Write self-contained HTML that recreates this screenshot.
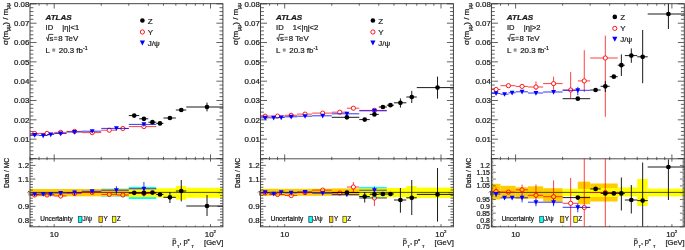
<!DOCTYPE html>
<html><head><meta charset="utf-8"><style>
html,body{margin:0;padding:0;background:#fff;width:685px;height:250px;overflow:hidden}
svg{display:block;will-change:transform}
text{font-family:"Liberation Sans", sans-serif;fill:#1a1a1a;stroke:#1a1a1a;stroke-width:0.22px}
</style></head><body>
<svg width="685" height="250" viewBox="0 0 685 250">
<rect width="685" height="250" fill="#fff"/>
<rect x="101.25" y="188.6" width="27.52" height="8" fill="#00ffff"/>
<rect x="128.77" y="187" width="27.52" height="12" fill="#00ffff"/>
<rect x="30" y="189" width="98.77" height="7.3" fill="#ffcc00"/>
<rect x="128.77" y="188.5" width="27.52" height="8.5" fill="#ffcc00"/>
<rect x="128.77" y="188.8" width="27.52" height="8.4" fill="#ffff00"/>
<rect x="156.3" y="188.2" width="19.53" height="9.3" fill="#ffff00"/>
<rect x="175.83" y="186" width="10.46" height="13.7" fill="#ffff00"/>
<rect x="186.29" y="187.8" width="36.59" height="10" fill="#ffff00"/>
<line x1="30" y1="192.4" x2="222.9" y2="192.4" stroke="#111" stroke-width="0.75"/>
<rect x="30" y="3.7" width="192.9" height="223.1" fill="none" stroke="#3a3a3a" stroke-width="0.95"/>
<line x1="30" y1="158.8" x2="222.9" y2="158.8" stroke="#3a3a3a" stroke-width="0.9"/>
<line x1="29.99" y1="3.7" x2="29.99" y2="5.7" stroke="#3a3a3a" stroke-width="0.8"/>
<line x1="29.99" y1="158.8" x2="29.99" y2="156.8" stroke="#3a3a3a" stroke-width="0.8"/>
<line x1="29.99" y1="158.8" x2="29.99" y2="160.1" stroke="#3a3a3a" stroke-width="0.8"/>
<line x1="29.99" y1="226.8" x2="29.99" y2="225.6" stroke="#3a3a3a" stroke-width="0.8"/>
<line x1="39.05" y1="3.7" x2="39.05" y2="5.7" stroke="#3a3a3a" stroke-width="0.8"/>
<line x1="39.05" y1="158.8" x2="39.05" y2="156.8" stroke="#3a3a3a" stroke-width="0.8"/>
<line x1="39.05" y1="158.8" x2="39.05" y2="160.1" stroke="#3a3a3a" stroke-width="0.8"/>
<line x1="39.05" y1="226.8" x2="39.05" y2="225.6" stroke="#3a3a3a" stroke-width="0.8"/>
<line x1="47.05" y1="3.7" x2="47.05" y2="5.7" stroke="#3a3a3a" stroke-width="0.8"/>
<line x1="47.05" y1="158.8" x2="47.05" y2="156.8" stroke="#3a3a3a" stroke-width="0.8"/>
<line x1="47.05" y1="158.8" x2="47.05" y2="160.1" stroke="#3a3a3a" stroke-width="0.8"/>
<line x1="47.05" y1="226.8" x2="47.05" y2="225.6" stroke="#3a3a3a" stroke-width="0.8"/>
<line x1="54.2" y1="3.7" x2="54.2" y2="8.5" stroke="#3a3a3a" stroke-width="0.8"/>
<line x1="54.2" y1="158.8" x2="54.2" y2="154.4" stroke="#3a3a3a" stroke-width="0.8"/>
<line x1="54.2" y1="158.8" x2="54.2" y2="161.6" stroke="#3a3a3a" stroke-width="0.8"/>
<line x1="54.2" y1="226.8" x2="54.2" y2="224.2" stroke="#3a3a3a" stroke-width="0.8"/>
<line x1="101.25" y1="3.7" x2="101.25" y2="5.7" stroke="#3a3a3a" stroke-width="0.8"/>
<line x1="101.25" y1="158.8" x2="101.25" y2="156.8" stroke="#3a3a3a" stroke-width="0.8"/>
<line x1="101.25" y1="158.8" x2="101.25" y2="160.1" stroke="#3a3a3a" stroke-width="0.8"/>
<line x1="101.25" y1="226.8" x2="101.25" y2="225.6" stroke="#3a3a3a" stroke-width="0.8"/>
<line x1="128.77" y1="3.7" x2="128.77" y2="5.7" stroke="#3a3a3a" stroke-width="0.8"/>
<line x1="128.77" y1="158.8" x2="128.77" y2="156.8" stroke="#3a3a3a" stroke-width="0.8"/>
<line x1="128.77" y1="158.8" x2="128.77" y2="160.1" stroke="#3a3a3a" stroke-width="0.8"/>
<line x1="128.77" y1="226.8" x2="128.77" y2="225.6" stroke="#3a3a3a" stroke-width="0.8"/>
<line x1="148.3" y1="3.7" x2="148.3" y2="5.7" stroke="#3a3a3a" stroke-width="0.8"/>
<line x1="148.3" y1="158.8" x2="148.3" y2="156.8" stroke="#3a3a3a" stroke-width="0.8"/>
<line x1="148.3" y1="158.8" x2="148.3" y2="160.1" stroke="#3a3a3a" stroke-width="0.8"/>
<line x1="148.3" y1="226.8" x2="148.3" y2="225.6" stroke="#3a3a3a" stroke-width="0.8"/>
<line x1="163.45" y1="3.7" x2="163.45" y2="5.7" stroke="#3a3a3a" stroke-width="0.8"/>
<line x1="163.45" y1="158.8" x2="163.45" y2="156.8" stroke="#3a3a3a" stroke-width="0.8"/>
<line x1="163.45" y1="158.8" x2="163.45" y2="160.1" stroke="#3a3a3a" stroke-width="0.8"/>
<line x1="163.45" y1="226.8" x2="163.45" y2="225.6" stroke="#3a3a3a" stroke-width="0.8"/>
<line x1="175.83" y1="3.7" x2="175.83" y2="5.7" stroke="#3a3a3a" stroke-width="0.8"/>
<line x1="175.83" y1="158.8" x2="175.83" y2="156.8" stroke="#3a3a3a" stroke-width="0.8"/>
<line x1="175.83" y1="158.8" x2="175.83" y2="160.1" stroke="#3a3a3a" stroke-width="0.8"/>
<line x1="175.83" y1="226.8" x2="175.83" y2="225.6" stroke="#3a3a3a" stroke-width="0.8"/>
<line x1="186.29" y1="3.7" x2="186.29" y2="5.7" stroke="#3a3a3a" stroke-width="0.8"/>
<line x1="186.29" y1="158.8" x2="186.29" y2="156.8" stroke="#3a3a3a" stroke-width="0.8"/>
<line x1="186.29" y1="158.8" x2="186.29" y2="160.1" stroke="#3a3a3a" stroke-width="0.8"/>
<line x1="186.29" y1="226.8" x2="186.29" y2="225.6" stroke="#3a3a3a" stroke-width="0.8"/>
<line x1="195.35" y1="3.7" x2="195.35" y2="5.7" stroke="#3a3a3a" stroke-width="0.8"/>
<line x1="195.35" y1="158.8" x2="195.35" y2="156.8" stroke="#3a3a3a" stroke-width="0.8"/>
<line x1="195.35" y1="158.8" x2="195.35" y2="160.1" stroke="#3a3a3a" stroke-width="0.8"/>
<line x1="195.35" y1="226.8" x2="195.35" y2="225.6" stroke="#3a3a3a" stroke-width="0.8"/>
<line x1="203.35" y1="3.7" x2="203.35" y2="5.7" stroke="#3a3a3a" stroke-width="0.8"/>
<line x1="203.35" y1="158.8" x2="203.35" y2="156.8" stroke="#3a3a3a" stroke-width="0.8"/>
<line x1="203.35" y1="158.8" x2="203.35" y2="160.1" stroke="#3a3a3a" stroke-width="0.8"/>
<line x1="203.35" y1="226.8" x2="203.35" y2="225.6" stroke="#3a3a3a" stroke-width="0.8"/>
<line x1="210.5" y1="3.7" x2="210.5" y2="8.5" stroke="#3a3a3a" stroke-width="0.8"/>
<line x1="210.5" y1="158.8" x2="210.5" y2="154.4" stroke="#3a3a3a" stroke-width="0.8"/>
<line x1="210.5" y1="158.8" x2="210.5" y2="161.6" stroke="#3a3a3a" stroke-width="0.8"/>
<line x1="210.5" y1="226.8" x2="210.5" y2="224.2" stroke="#3a3a3a" stroke-width="0.8"/>
<line x1="30" y1="158.5" x2="36.5" y2="158.5" stroke="#3a3a3a" stroke-width="0.8"/>
<line x1="222.9" y1="158.5" x2="216.4" y2="158.5" stroke="#3a3a3a" stroke-width="0.8"/>
<line x1="30" y1="154.63" x2="33.4" y2="154.63" stroke="#3a3a3a" stroke-width="0.8"/>
<line x1="222.9" y1="154.63" x2="219.5" y2="154.63" stroke="#3a3a3a" stroke-width="0.8"/>
<line x1="30" y1="150.77" x2="33.4" y2="150.77" stroke="#3a3a3a" stroke-width="0.8"/>
<line x1="222.9" y1="150.77" x2="219.5" y2="150.77" stroke="#3a3a3a" stroke-width="0.8"/>
<line x1="30" y1="146.9" x2="33.4" y2="146.9" stroke="#3a3a3a" stroke-width="0.8"/>
<line x1="222.9" y1="146.9" x2="219.5" y2="146.9" stroke="#3a3a3a" stroke-width="0.8"/>
<line x1="30" y1="143.04" x2="33.4" y2="143.04" stroke="#3a3a3a" stroke-width="0.8"/>
<line x1="222.9" y1="143.04" x2="219.5" y2="143.04" stroke="#3a3a3a" stroke-width="0.8"/>
<line x1="30" y1="139.17" x2="36.5" y2="139.17" stroke="#3a3a3a" stroke-width="0.8"/>
<line x1="222.9" y1="139.17" x2="216.4" y2="139.17" stroke="#3a3a3a" stroke-width="0.8"/>
<line x1="30" y1="135.3" x2="33.4" y2="135.3" stroke="#3a3a3a" stroke-width="0.8"/>
<line x1="222.9" y1="135.3" x2="219.5" y2="135.3" stroke="#3a3a3a" stroke-width="0.8"/>
<line x1="30" y1="131.44" x2="33.4" y2="131.44" stroke="#3a3a3a" stroke-width="0.8"/>
<line x1="222.9" y1="131.44" x2="219.5" y2="131.44" stroke="#3a3a3a" stroke-width="0.8"/>
<line x1="30" y1="127.57" x2="33.4" y2="127.57" stroke="#3a3a3a" stroke-width="0.8"/>
<line x1="222.9" y1="127.57" x2="219.5" y2="127.57" stroke="#3a3a3a" stroke-width="0.8"/>
<line x1="30" y1="123.71" x2="33.4" y2="123.71" stroke="#3a3a3a" stroke-width="0.8"/>
<line x1="222.9" y1="123.71" x2="219.5" y2="123.71" stroke="#3a3a3a" stroke-width="0.8"/>
<line x1="30" y1="119.84" x2="36.5" y2="119.84" stroke="#3a3a3a" stroke-width="0.8"/>
<line x1="222.9" y1="119.84" x2="216.4" y2="119.84" stroke="#3a3a3a" stroke-width="0.8"/>
<line x1="30" y1="115.97" x2="33.4" y2="115.97" stroke="#3a3a3a" stroke-width="0.8"/>
<line x1="222.9" y1="115.97" x2="219.5" y2="115.97" stroke="#3a3a3a" stroke-width="0.8"/>
<line x1="30" y1="112.11" x2="33.4" y2="112.11" stroke="#3a3a3a" stroke-width="0.8"/>
<line x1="222.9" y1="112.11" x2="219.5" y2="112.11" stroke="#3a3a3a" stroke-width="0.8"/>
<line x1="30" y1="108.24" x2="33.4" y2="108.24" stroke="#3a3a3a" stroke-width="0.8"/>
<line x1="222.9" y1="108.24" x2="219.5" y2="108.24" stroke="#3a3a3a" stroke-width="0.8"/>
<line x1="30" y1="104.38" x2="33.4" y2="104.38" stroke="#3a3a3a" stroke-width="0.8"/>
<line x1="222.9" y1="104.38" x2="219.5" y2="104.38" stroke="#3a3a3a" stroke-width="0.8"/>
<line x1="30" y1="100.51" x2="36.5" y2="100.51" stroke="#3a3a3a" stroke-width="0.8"/>
<line x1="222.9" y1="100.51" x2="216.4" y2="100.51" stroke="#3a3a3a" stroke-width="0.8"/>
<line x1="30" y1="96.64" x2="33.4" y2="96.64" stroke="#3a3a3a" stroke-width="0.8"/>
<line x1="222.9" y1="96.64" x2="219.5" y2="96.64" stroke="#3a3a3a" stroke-width="0.8"/>
<line x1="30" y1="92.78" x2="33.4" y2="92.78" stroke="#3a3a3a" stroke-width="0.8"/>
<line x1="222.9" y1="92.78" x2="219.5" y2="92.78" stroke="#3a3a3a" stroke-width="0.8"/>
<line x1="30" y1="88.91" x2="33.4" y2="88.91" stroke="#3a3a3a" stroke-width="0.8"/>
<line x1="222.9" y1="88.91" x2="219.5" y2="88.91" stroke="#3a3a3a" stroke-width="0.8"/>
<line x1="30" y1="85.05" x2="33.4" y2="85.05" stroke="#3a3a3a" stroke-width="0.8"/>
<line x1="222.9" y1="85.05" x2="219.5" y2="85.05" stroke="#3a3a3a" stroke-width="0.8"/>
<line x1="30" y1="81.18" x2="36.5" y2="81.18" stroke="#3a3a3a" stroke-width="0.8"/>
<line x1="222.9" y1="81.18" x2="216.4" y2="81.18" stroke="#3a3a3a" stroke-width="0.8"/>
<line x1="30" y1="77.31" x2="33.4" y2="77.31" stroke="#3a3a3a" stroke-width="0.8"/>
<line x1="222.9" y1="77.31" x2="219.5" y2="77.31" stroke="#3a3a3a" stroke-width="0.8"/>
<line x1="30" y1="73.45" x2="33.4" y2="73.45" stroke="#3a3a3a" stroke-width="0.8"/>
<line x1="222.9" y1="73.45" x2="219.5" y2="73.45" stroke="#3a3a3a" stroke-width="0.8"/>
<line x1="30" y1="69.58" x2="33.4" y2="69.58" stroke="#3a3a3a" stroke-width="0.8"/>
<line x1="222.9" y1="69.58" x2="219.5" y2="69.58" stroke="#3a3a3a" stroke-width="0.8"/>
<line x1="30" y1="65.72" x2="33.4" y2="65.72" stroke="#3a3a3a" stroke-width="0.8"/>
<line x1="222.9" y1="65.72" x2="219.5" y2="65.72" stroke="#3a3a3a" stroke-width="0.8"/>
<line x1="30" y1="61.85" x2="36.5" y2="61.85" stroke="#3a3a3a" stroke-width="0.8"/>
<line x1="222.9" y1="61.85" x2="216.4" y2="61.85" stroke="#3a3a3a" stroke-width="0.8"/>
<line x1="30" y1="57.98" x2="33.4" y2="57.98" stroke="#3a3a3a" stroke-width="0.8"/>
<line x1="222.9" y1="57.98" x2="219.5" y2="57.98" stroke="#3a3a3a" stroke-width="0.8"/>
<line x1="30" y1="54.12" x2="33.4" y2="54.12" stroke="#3a3a3a" stroke-width="0.8"/>
<line x1="222.9" y1="54.12" x2="219.5" y2="54.12" stroke="#3a3a3a" stroke-width="0.8"/>
<line x1="30" y1="50.25" x2="33.4" y2="50.25" stroke="#3a3a3a" stroke-width="0.8"/>
<line x1="222.9" y1="50.25" x2="219.5" y2="50.25" stroke="#3a3a3a" stroke-width="0.8"/>
<line x1="30" y1="46.39" x2="33.4" y2="46.39" stroke="#3a3a3a" stroke-width="0.8"/>
<line x1="222.9" y1="46.39" x2="219.5" y2="46.39" stroke="#3a3a3a" stroke-width="0.8"/>
<line x1="30" y1="42.52" x2="36.5" y2="42.52" stroke="#3a3a3a" stroke-width="0.8"/>
<line x1="222.9" y1="42.52" x2="216.4" y2="42.52" stroke="#3a3a3a" stroke-width="0.8"/>
<line x1="30" y1="38.65" x2="33.4" y2="38.65" stroke="#3a3a3a" stroke-width="0.8"/>
<line x1="222.9" y1="38.65" x2="219.5" y2="38.65" stroke="#3a3a3a" stroke-width="0.8"/>
<line x1="30" y1="34.79" x2="33.4" y2="34.79" stroke="#3a3a3a" stroke-width="0.8"/>
<line x1="222.9" y1="34.79" x2="219.5" y2="34.79" stroke="#3a3a3a" stroke-width="0.8"/>
<line x1="30" y1="30.92" x2="33.4" y2="30.92" stroke="#3a3a3a" stroke-width="0.8"/>
<line x1="222.9" y1="30.92" x2="219.5" y2="30.92" stroke="#3a3a3a" stroke-width="0.8"/>
<line x1="30" y1="27.06" x2="33.4" y2="27.06" stroke="#3a3a3a" stroke-width="0.8"/>
<line x1="222.9" y1="27.06" x2="219.5" y2="27.06" stroke="#3a3a3a" stroke-width="0.8"/>
<line x1="30" y1="23.19" x2="36.5" y2="23.19" stroke="#3a3a3a" stroke-width="0.8"/>
<line x1="222.9" y1="23.19" x2="216.4" y2="23.19" stroke="#3a3a3a" stroke-width="0.8"/>
<line x1="30" y1="19.32" x2="33.4" y2="19.32" stroke="#3a3a3a" stroke-width="0.8"/>
<line x1="222.9" y1="19.32" x2="219.5" y2="19.32" stroke="#3a3a3a" stroke-width="0.8"/>
<line x1="30" y1="15.46" x2="33.4" y2="15.46" stroke="#3a3a3a" stroke-width="0.8"/>
<line x1="222.9" y1="15.46" x2="219.5" y2="15.46" stroke="#3a3a3a" stroke-width="0.8"/>
<line x1="30" y1="11.59" x2="33.4" y2="11.59" stroke="#3a3a3a" stroke-width="0.8"/>
<line x1="222.9" y1="11.59" x2="219.5" y2="11.59" stroke="#3a3a3a" stroke-width="0.8"/>
<line x1="30" y1="7.73" x2="33.4" y2="7.73" stroke="#3a3a3a" stroke-width="0.8"/>
<line x1="222.9" y1="7.73" x2="219.5" y2="7.73" stroke="#3a3a3a" stroke-width="0.8"/>
<line x1="30" y1="3.86" x2="36.5" y2="3.86" stroke="#3a3a3a" stroke-width="0.8"/>
<line x1="222.9" y1="3.86" x2="216.4" y2="3.86" stroke="#3a3a3a" stroke-width="0.8"/>
<text x="29.4" y="142.07" font-size="7.9" text-anchor="end" >0.01</text>
<text x="29.4" y="122.74" font-size="7.9" text-anchor="end" >0.02</text>
<text x="29.4" y="103.41" font-size="7.9" text-anchor="end" >0.03</text>
<text x="29.4" y="84.08" font-size="7.9" text-anchor="end" >0.04</text>
<text x="29.4" y="64.75" font-size="7.9" text-anchor="end" >0.05</text>
<text x="29.4" y="45.42" font-size="7.9" text-anchor="end" >0.06</text>
<text x="29.4" y="26.09" font-size="7.9" text-anchor="end" >0.07</text>
<text x="29.4" y="6.76" font-size="7.9" text-anchor="end" >0.08</text>
<line x1="30" y1="225.46" x2="32.9" y2="225.46" stroke="#3a3a3a" stroke-width="0.8"/>
<line x1="222.9" y1="225.46" x2="220" y2="225.46" stroke="#3a3a3a" stroke-width="0.8"/>
<line x1="30" y1="222.73" x2="32.9" y2="222.73" stroke="#3a3a3a" stroke-width="0.8"/>
<line x1="222.9" y1="222.73" x2="220" y2="222.73" stroke="#3a3a3a" stroke-width="0.8"/>
<line x1="30" y1="220" x2="35.4" y2="220" stroke="#3a3a3a" stroke-width="0.8"/>
<line x1="222.9" y1="220" x2="217.5" y2="220" stroke="#3a3a3a" stroke-width="0.8"/>
<line x1="30" y1="217.27" x2="32.9" y2="217.27" stroke="#3a3a3a" stroke-width="0.8"/>
<line x1="222.9" y1="217.27" x2="220" y2="217.27" stroke="#3a3a3a" stroke-width="0.8"/>
<line x1="30" y1="214.54" x2="32.9" y2="214.54" stroke="#3a3a3a" stroke-width="0.8"/>
<line x1="222.9" y1="214.54" x2="220" y2="214.54" stroke="#3a3a3a" stroke-width="0.8"/>
<line x1="30" y1="211.81" x2="32.9" y2="211.81" stroke="#3a3a3a" stroke-width="0.8"/>
<line x1="222.9" y1="211.81" x2="220" y2="211.81" stroke="#3a3a3a" stroke-width="0.8"/>
<line x1="30" y1="209.08" x2="32.9" y2="209.08" stroke="#3a3a3a" stroke-width="0.8"/>
<line x1="222.9" y1="209.08" x2="220" y2="209.08" stroke="#3a3a3a" stroke-width="0.8"/>
<line x1="30" y1="206.35" x2="35.4" y2="206.35" stroke="#3a3a3a" stroke-width="0.8"/>
<line x1="222.9" y1="206.35" x2="217.5" y2="206.35" stroke="#3a3a3a" stroke-width="0.8"/>
<line x1="30" y1="203.62" x2="32.9" y2="203.62" stroke="#3a3a3a" stroke-width="0.8"/>
<line x1="222.9" y1="203.62" x2="220" y2="203.62" stroke="#3a3a3a" stroke-width="0.8"/>
<line x1="30" y1="200.89" x2="32.9" y2="200.89" stroke="#3a3a3a" stroke-width="0.8"/>
<line x1="222.9" y1="200.89" x2="220" y2="200.89" stroke="#3a3a3a" stroke-width="0.8"/>
<line x1="30" y1="198.16" x2="32.9" y2="198.16" stroke="#3a3a3a" stroke-width="0.8"/>
<line x1="222.9" y1="198.16" x2="220" y2="198.16" stroke="#3a3a3a" stroke-width="0.8"/>
<line x1="30" y1="195.43" x2="32.9" y2="195.43" stroke="#3a3a3a" stroke-width="0.8"/>
<line x1="222.9" y1="195.43" x2="220" y2="195.43" stroke="#3a3a3a" stroke-width="0.8"/>
<line x1="30" y1="192.7" x2="35.4" y2="192.7" stroke="#3a3a3a" stroke-width="0.8"/>
<line x1="222.9" y1="192.7" x2="217.5" y2="192.7" stroke="#3a3a3a" stroke-width="0.8"/>
<line x1="30" y1="189.97" x2="32.9" y2="189.97" stroke="#3a3a3a" stroke-width="0.8"/>
<line x1="222.9" y1="189.97" x2="220" y2="189.97" stroke="#3a3a3a" stroke-width="0.8"/>
<line x1="30" y1="187.24" x2="32.9" y2="187.24" stroke="#3a3a3a" stroke-width="0.8"/>
<line x1="222.9" y1="187.24" x2="220" y2="187.24" stroke="#3a3a3a" stroke-width="0.8"/>
<line x1="30" y1="184.51" x2="32.9" y2="184.51" stroke="#3a3a3a" stroke-width="0.8"/>
<line x1="222.9" y1="184.51" x2="220" y2="184.51" stroke="#3a3a3a" stroke-width="0.8"/>
<line x1="30" y1="181.78" x2="32.9" y2="181.78" stroke="#3a3a3a" stroke-width="0.8"/>
<line x1="222.9" y1="181.78" x2="220" y2="181.78" stroke="#3a3a3a" stroke-width="0.8"/>
<line x1="30" y1="179.05" x2="35.4" y2="179.05" stroke="#3a3a3a" stroke-width="0.8"/>
<line x1="222.9" y1="179.05" x2="217.5" y2="179.05" stroke="#3a3a3a" stroke-width="0.8"/>
<line x1="30" y1="176.32" x2="32.9" y2="176.32" stroke="#3a3a3a" stroke-width="0.8"/>
<line x1="222.9" y1="176.32" x2="220" y2="176.32" stroke="#3a3a3a" stroke-width="0.8"/>
<line x1="30" y1="173.59" x2="32.9" y2="173.59" stroke="#3a3a3a" stroke-width="0.8"/>
<line x1="222.9" y1="173.59" x2="220" y2="173.59" stroke="#3a3a3a" stroke-width="0.8"/>
<line x1="30" y1="170.86" x2="32.9" y2="170.86" stroke="#3a3a3a" stroke-width="0.8"/>
<line x1="222.9" y1="170.86" x2="220" y2="170.86" stroke="#3a3a3a" stroke-width="0.8"/>
<line x1="30" y1="168.13" x2="32.9" y2="168.13" stroke="#3a3a3a" stroke-width="0.8"/>
<line x1="222.9" y1="168.13" x2="220" y2="168.13" stroke="#3a3a3a" stroke-width="0.8"/>
<line x1="30" y1="165.4" x2="35.4" y2="165.4" stroke="#3a3a3a" stroke-width="0.8"/>
<line x1="222.9" y1="165.4" x2="217.5" y2="165.4" stroke="#3a3a3a" stroke-width="0.8"/>
<line x1="30" y1="162.67" x2="32.9" y2="162.67" stroke="#3a3a3a" stroke-width="0.8"/>
<line x1="222.9" y1="162.67" x2="220" y2="162.67" stroke="#3a3a3a" stroke-width="0.8"/>
<line x1="30" y1="159.94" x2="32.9" y2="159.94" stroke="#3a3a3a" stroke-width="0.8"/>
<line x1="222.9" y1="159.94" x2="220" y2="159.94" stroke="#3a3a3a" stroke-width="0.8"/>
<text x="29.1" y="168.4" font-size="7.9" text-anchor="end" >1.2</text>
<text x="29.1" y="182.05" font-size="7.9" text-anchor="end" >1.1</text>
<text x="29.1" y="209.35" font-size="7.9" text-anchor="end" >0.9</text>
<text x="29.1" y="223" font-size="7.9" text-anchor="end" >0.8</text>
<path d="M27.4 192.6L29.1 190.9L29.1 195.5" fill="none" stroke="#444" stroke-width="0.8"/>
<text x="54.2" y="236.9" font-size="8.0" text-anchor="middle" >10</text>
<text x="209.2" y="236.9" font-size="8.0" text-anchor="middle" >10</text>
<text x="213.4" y="233.4" font-size="4.4" text-anchor="start" >2</text>
<line x1="172.6" y1="238.9" x2="175.8" y2="238.9" stroke="#222" stroke-width="0.8"/>
<text x="172.3" y="244.4" font-size="7.6" text-anchor="start" >p</text>
<text x="177" y="247.8" font-size="4.0" text-anchor="start" >T</text>
<text x="179.6" y="244.4" font-size="7.6" text-anchor="start" >,</text>
<text x="183.4" y="244.4" font-size="7.6" text-anchor="start" >p</text>
<text x="187.4" y="243" font-size="5.6" text-anchor="start" >*</text>
<text x="191.6" y="247.8" font-size="4.0" text-anchor="start" >T</text>
<text x="223.3" y="245.2" font-size="7.5" text-anchor="end" >[GeV]</text>
<text transform="translate(7.6,45) rotate(-90)" font-size="8.0">σ(m<tspan font-size="5.2" dy="2.6">μμ</tspan><tspan dy="-2.6">) / m</tspan><tspan font-size="5.2" dy="2.6">μμ</tspan></text>
<text transform="translate(9.4,188) rotate(-90)" font-size="6.7">Data / MC</text>
<text x="45.4" y="19.6" font-size="8.1" font-weight="bold" font-style="italic">ATLAS</text>
<text x="45.6" y="29.7" font-size="7.6" text-anchor="start" >ID</text>
<text x="62.3" y="29.7" font-size="7.6" text-anchor="start" >|η|&lt;1</text>
<path d="M46 38.3L46.9 37.7L48 40.9L48.9 34.4L53.3 34.4" fill="none" stroke="#222" stroke-width="0.85"/>
<text x="49.6" y="41" font-size="7.9" text-anchor="start" >s</text>
<line x1="54" y1="37.3" x2="57.3" y2="37.3" stroke="#333" stroke-width="0.8"/>
<line x1="54" y1="39.3" x2="57.3" y2="39.3" stroke="#333" stroke-width="0.8"/>
<text x="58.2" y="41" font-size="7.9" text-anchor="start" >8 TeV</text>
<text x="45.6" y="52.7" font-size="7.9" text-anchor="start" >L</text>
<line x1="52.3" y1="49.2" x2="55.2" y2="49.2" stroke="#333" stroke-width="0.85"/>
<line x1="52.3" y1="50.9" x2="55.2" y2="50.9" stroke="#333" stroke-width="0.85"/>
<text x="58.8" y="52.7" font-size="7.9" text-anchor="start" >20.3 fb<tspan font-size="5.2" dy="-3.2">-1</tspan></text>
<circle cx="142.4" cy="20.5" r="2.3" fill="#000"/>
<circle cx="142.4" cy="32" r="2.1" fill="none" stroke="#ff0000" stroke-width="0.9"/>
<path d="M139.8 40.39L145 40.39L142.4 45.46Z" fill="#0000ff"/>
<text x="147.8" y="23.5" font-size="8.0" text-anchor="start" >Z</text>
<text x="147.8" y="34.8" font-size="8.0" text-anchor="start" >Υ</text>
<text x="147.8" y="45.5" font-size="8.0" text-anchor="start" >J/ψ</text>
<text x="40.3" y="221.3" font-size="6.4" text-anchor="start" >Uncertainty</text>
<rect x="78.3" y="216.3" width="3.7" height="6.2" fill="#00ffff" stroke="#333" stroke-width="0.7"/>
<text x="82.6" y="221.3" font-size="6.4" text-anchor="start" >J/ψ</text>
<rect x="98.9" y="216.3" width="3.5" height="6.2" fill="#ffcc00" stroke="#333" stroke-width="0.7"/>
<text x="103.4" y="221.3" font-size="6.4" text-anchor="start" >Υ</text>
<rect x="112.4" y="216.3" width="3.5" height="6.2" fill="#ffff00" stroke="#333" stroke-width="0.7"/>
<text x="116.8" y="221.3" font-size="6.4" text-anchor="start" >Z</text>
<line x1="30" y1="133.5" x2="32.67" y2="133.5" stroke="#ff0000" stroke-width="0.75"/>
<line x1="36.67" y1="133.5" x2="39.05" y2="133.5" stroke="#ff0000" stroke-width="0.75"/>
<line x1="39.05" y1="133.4" x2="45.05" y2="133.4" stroke="#ff0000" stroke-width="0.75"/>
<line x1="49.05" y1="133.4" x2="54.2" y2="133.4" stroke="#ff0000" stroke-width="0.75"/>
<line x1="54.2" y1="132.4" x2="58.67" y2="132.4" stroke="#ff0000" stroke-width="0.75"/>
<line x1="62.67" y1="132.4" x2="66.58" y2="132.4" stroke="#ff0000" stroke-width="0.75"/>
<line x1="66.58" y1="131.4" x2="72.57" y2="131.4" stroke="#ff0000" stroke-width="0.75"/>
<line x1="76.57" y1="131.4" x2="81.72" y2="131.4" stroke="#ff0000" stroke-width="0.75"/>
<line x1="81.72" y1="132.6" x2="90.19" y2="132.6" stroke="#ff0000" stroke-width="0.75"/>
<line x1="94.19" y1="132.6" x2="101.25" y2="132.6" stroke="#ff0000" stroke-width="0.75"/>
<line x1="101.25" y1="130.2" x2="107.25" y2="130.2" stroke="#ff0000" stroke-width="0.75"/>
<line x1="111.25" y1="130.2" x2="116.4" y2="130.2" stroke="#ff0000" stroke-width="0.75"/>
<line x1="116.4" y1="128.5" x2="120.87" y2="128.5" stroke="#ff0000" stroke-width="0.75"/>
<line x1="124.87" y1="128.5" x2="128.77" y2="128.5" stroke="#ff0000" stroke-width="0.75"/>
<line x1="128.77" y1="126.6" x2="141.92" y2="126.6" stroke="#ff0000" stroke-width="0.75"/>
<line x1="145.92" y1="126.6" x2="156.3" y2="126.6" stroke="#ff0000" stroke-width="0.75"/>
<circle cx="34.67" cy="133.5" r="2.1" fill="none" stroke="#ff0000" stroke-width="0.9"/>
<circle cx="47.05" cy="133.4" r="2.1" fill="none" stroke="#ff0000" stroke-width="0.9"/>
<circle cx="60.67" cy="132.4" r="2.1" fill="none" stroke="#ff0000" stroke-width="0.9"/>
<circle cx="74.57" cy="131.4" r="2.1" fill="none" stroke="#ff0000" stroke-width="0.9"/>
<circle cx="92.19" cy="132.6" r="2.1" fill="none" stroke="#ff0000" stroke-width="0.9"/>
<circle cx="109.25" cy="130.2" r="2.1" fill="none" stroke="#ff0000" stroke-width="0.9"/>
<circle cx="122.87" cy="128.5" r="2.1" fill="none" stroke="#ff0000" stroke-width="0.9"/>
<circle cx="143.92" cy="126.6" r="2.1" fill="none" stroke="#ff0000" stroke-width="0.9"/>
<line x1="30" y1="135" x2="39.05" y2="135" stroke="#0000ff" stroke-width="0.8"/>
<line x1="39.05" y1="135.5" x2="47.05" y2="135.5" stroke="#0000ff" stroke-width="0.8"/>
<line x1="47.05" y1="134.5" x2="54.2" y2="134.5" stroke="#0000ff" stroke-width="0.8"/>
<line x1="54.2" y1="133.5" x2="66.58" y2="133.5" stroke="#0000ff" stroke-width="0.8"/>
<line x1="66.58" y1="132" x2="81.72" y2="132" stroke="#0000ff" stroke-width="0.8"/>
<line x1="81.72" y1="131.2" x2="101.25" y2="131.2" stroke="#0000ff" stroke-width="0.8"/>
<line x1="101.25" y1="128.4" x2="128.77" y2="128.4" stroke="#0000ff" stroke-width="0.8"/>
<line x1="128.77" y1="124.4" x2="156.3" y2="124.4" stroke="#0000ff" stroke-width="0.8"/>
<path d="M32.27 132.96L37.07 132.96L34.67 137.64Z" fill="#0000ff"/>
<path d="M40.77 133.46L45.57 133.46L43.17 138.14Z" fill="#0000ff"/>
<path d="M48.32 132.46L53.12 132.46L50.72 137.14Z" fill="#0000ff"/>
<path d="M58.27 131.46L63.07 131.46L60.67 136.14Z" fill="#0000ff"/>
<path d="M72.17 129.96L76.97 129.96L74.57 134.64Z" fill="#0000ff"/>
<path d="M89.79 129.16L94.59 129.16L92.19 133.84Z" fill="#0000ff"/>
<path d="M114 126.36L118.8 126.36L116.4 131.04Z" fill="#0000ff"/>
<path d="M141.52 122.36L146.32 122.36L143.92 127.04Z" fill="#0000ff"/>
<line x1="128.77" y1="115.6" x2="139.24" y2="115.6" stroke="#000" stroke-width="0.9"/>
<line x1="139.24" y1="118.8" x2="148.3" y2="118.8" stroke="#000" stroke-width="0.9"/>
<line x1="148.3" y1="122.2" x2="156.3" y2="122.2" stroke="#000" stroke-width="0.9"/>
<line x1="156.3" y1="123.4" x2="163.45" y2="123.4" stroke="#000" stroke-width="0.9"/>
<line x1="163.45" y1="118" x2="175.83" y2="118" stroke="#000" stroke-width="0.9"/>
<line x1="175.83" y1="110" x2="186.29" y2="110" stroke="#000" stroke-width="0.9"/>
<line x1="186.29" y1="107" x2="222.88" y2="107" stroke="#000" stroke-width="0.9"/>
<line x1="207.02" y1="102.6" x2="207.02" y2="111.4" stroke="#000" stroke-width="0.9"/>
<circle cx="134.21" cy="115.6" r="2.35" fill="#000"/>
<circle cx="143.92" cy="118.8" r="2.35" fill="#000"/>
<circle cx="152.42" cy="122.2" r="2.35" fill="#000"/>
<circle cx="159.97" cy="123.4" r="2.35" fill="#000"/>
<circle cx="169.92" cy="118" r="2.35" fill="#000"/>
<circle cx="181.26" cy="110" r="2.35" fill="#000"/>
<circle cx="207.02" cy="107" r="2.35" fill="#000"/>
<line x1="30" y1="195" x2="32.67" y2="195" stroke="#ff0000" stroke-width="0.75"/>
<line x1="36.67" y1="195" x2="39.05" y2="195" stroke="#ff0000" stroke-width="0.75"/>
<line x1="39.05" y1="195" x2="45.05" y2="195" stroke="#ff0000" stroke-width="0.75"/>
<line x1="49.05" y1="195" x2="54.2" y2="195" stroke="#ff0000" stroke-width="0.75"/>
<line x1="54.2" y1="196" x2="58.67" y2="196" stroke="#ff0000" stroke-width="0.75"/>
<line x1="62.67" y1="196" x2="66.58" y2="196" stroke="#ff0000" stroke-width="0.75"/>
<line x1="66.58" y1="193.4" x2="72.57" y2="193.4" stroke="#ff0000" stroke-width="0.75"/>
<line x1="76.57" y1="193.4" x2="81.72" y2="193.4" stroke="#ff0000" stroke-width="0.75"/>
<line x1="81.72" y1="192.4" x2="90.19" y2="192.4" stroke="#ff0000" stroke-width="0.75"/>
<line x1="94.19" y1="192.4" x2="101.25" y2="192.4" stroke="#ff0000" stroke-width="0.75"/>
<line x1="101.25" y1="194.4" x2="107.25" y2="194.4" stroke="#ff0000" stroke-width="0.75"/>
<line x1="111.25" y1="194.4" x2="116.4" y2="194.4" stroke="#ff0000" stroke-width="0.75"/>
<line x1="116.4" y1="195" x2="120.87" y2="195" stroke="#ff0000" stroke-width="0.75"/>
<line x1="124.87" y1="195" x2="128.77" y2="195" stroke="#ff0000" stroke-width="0.75"/>
<line x1="128.77" y1="193.5" x2="141.92" y2="193.5" stroke="#ff0000" stroke-width="0.75"/>
<line x1="145.92" y1="193.5" x2="156.3" y2="193.5" stroke="#ff0000" stroke-width="0.75"/>
<circle cx="34.67" cy="195" r="2.1" fill="none" stroke="#ff0000" stroke-width="0.9"/>
<circle cx="47.05" cy="195" r="2.1" fill="none" stroke="#ff0000" stroke-width="0.9"/>
<circle cx="60.67" cy="196" r="2.1" fill="none" stroke="#ff0000" stroke-width="0.9"/>
<circle cx="74.57" cy="193.4" r="2.1" fill="none" stroke="#ff0000" stroke-width="0.9"/>
<circle cx="92.19" cy="192.4" r="2.1" fill="none" stroke="#ff0000" stroke-width="0.9"/>
<circle cx="109.25" cy="194.4" r="2.1" fill="none" stroke="#ff0000" stroke-width="0.9"/>
<circle cx="122.87" cy="195" r="2.1" fill="none" stroke="#ff0000" stroke-width="0.9"/>
<circle cx="143.92" cy="193.5" r="2.1" fill="none" stroke="#ff0000" stroke-width="0.9"/>
<line x1="30" y1="194.2" x2="39.05" y2="194.2" stroke="#0000ff" stroke-width="0.8"/>
<line x1="39.05" y1="194" x2="47.05" y2="194" stroke="#0000ff" stroke-width="0.8"/>
<line x1="47.05" y1="194" x2="54.2" y2="194" stroke="#0000ff" stroke-width="0.8"/>
<line x1="54.2" y1="193" x2="66.58" y2="193" stroke="#0000ff" stroke-width="0.8"/>
<line x1="66.58" y1="192.6" x2="81.72" y2="192.6" stroke="#0000ff" stroke-width="0.8"/>
<line x1="74.57" y1="190.5" x2="74.57" y2="195.6" stroke="#0000ff" stroke-width="0.8"/>
<line x1="81.72" y1="191.3" x2="101.25" y2="191.3" stroke="#0000ff" stroke-width="0.8"/>
<line x1="101.25" y1="190.2" x2="128.77" y2="190.2" stroke="#0000ff" stroke-width="0.8"/>
<line x1="116.4" y1="186.2" x2="116.4" y2="194.6" stroke="#0000ff" stroke-width="0.8"/>
<line x1="128.77" y1="188.8" x2="156.3" y2="188.8" stroke="#0000ff" stroke-width="0.8"/>
<line x1="143.92" y1="182" x2="143.92" y2="196.4" stroke="#0000ff" stroke-width="0.8"/>
<path d="M32.27 192.16L37.07 192.16L34.67 196.84Z" fill="#0000ff"/>
<path d="M40.77 191.96L45.57 191.96L43.17 196.64Z" fill="#0000ff"/>
<path d="M48.32 191.96L53.12 191.96L50.72 196.64Z" fill="#0000ff"/>
<path d="M58.27 190.96L63.07 190.96L60.67 195.64Z" fill="#0000ff"/>
<path d="M72.17 190.56L76.97 190.56L74.57 195.24Z" fill="#0000ff"/>
<path d="M89.79 189.26L94.59 189.26L92.19 193.94Z" fill="#0000ff"/>
<path d="M114 188.16L118.8 188.16L116.4 192.84Z" fill="#0000ff"/>
<path d="M141.52 186.76L146.32 186.76L143.92 191.44Z" fill="#0000ff"/>
<line x1="128.77" y1="192.8" x2="139.24" y2="192.8" stroke="#000" stroke-width="0.9"/>
<line x1="139.24" y1="192.8" x2="148.3" y2="192.8" stroke="#000" stroke-width="0.9"/>
<line x1="148.3" y1="192.6" x2="156.3" y2="192.6" stroke="#000" stroke-width="0.9"/>
<line x1="156.3" y1="194.5" x2="163.45" y2="194.5" stroke="#000" stroke-width="0.9"/>
<line x1="163.45" y1="197.3" x2="175.83" y2="197.3" stroke="#000" stroke-width="0.9"/>
<line x1="169.92" y1="192" x2="169.92" y2="203" stroke="#000" stroke-width="0.9"/>
<line x1="175.83" y1="191" x2="186.29" y2="191" stroke="#000" stroke-width="0.9"/>
<line x1="181.26" y1="180" x2="181.26" y2="201.4" stroke="#000" stroke-width="0.9"/>
<line x1="186.29" y1="206" x2="222.88" y2="206" stroke="#000" stroke-width="0.9"/>
<line x1="207.02" y1="195" x2="207.02" y2="216" stroke="#000" stroke-width="0.9"/>
<circle cx="134.21" cy="192.8" r="2.35" fill="#000"/>
<circle cx="143.92" cy="192.8" r="2.35" fill="#000"/>
<circle cx="152.42" cy="192.6" r="2.35" fill="#000"/>
<circle cx="159.97" cy="194.5" r="2.35" fill="#000"/>
<circle cx="169.92" cy="197.3" r="2.35" fill="#000"/>
<circle cx="181.26" cy="191" r="2.35" fill="#000"/>
<circle cx="207.02" cy="206" r="2.35" fill="#000"/>
<rect x="359.27" y="187" width="27.52" height="11.5" fill="#00ffff"/>
<rect x="260.5" y="188.8" width="98.77" height="7" fill="#ffcc00"/>
<rect x="331.75" y="188.5" width="27.52" height="7.5" fill="#ffcc00"/>
<rect x="359.27" y="188.5" width="27.52" height="8.5" fill="#ffcc00"/>
<rect x="359.27" y="188.5" width="27.52" height="8.5" fill="#ffff00"/>
<rect x="386.8" y="188" width="19.53" height="9.2" fill="#ffff00"/>
<rect x="406.33" y="186" width="10.46" height="12.5" fill="#ffff00"/>
<rect x="416.79" y="187.6" width="36.59" height="10.3" fill="#ffff00"/>
<line x1="260.5" y1="192.4" x2="453.4" y2="192.4" stroke="#111" stroke-width="0.75"/>
<rect x="260.5" y="3.7" width="192.9" height="223.1" fill="none" stroke="#3a3a3a" stroke-width="0.95"/>
<line x1="260.5" y1="158.8" x2="453.4" y2="158.8" stroke="#3a3a3a" stroke-width="0.9"/>
<line x1="260.49" y1="3.7" x2="260.49" y2="5.7" stroke="#3a3a3a" stroke-width="0.8"/>
<line x1="260.49" y1="158.8" x2="260.49" y2="156.8" stroke="#3a3a3a" stroke-width="0.8"/>
<line x1="260.49" y1="158.8" x2="260.49" y2="160.1" stroke="#3a3a3a" stroke-width="0.8"/>
<line x1="260.49" y1="226.8" x2="260.49" y2="225.6" stroke="#3a3a3a" stroke-width="0.8"/>
<line x1="269.55" y1="3.7" x2="269.55" y2="5.7" stroke="#3a3a3a" stroke-width="0.8"/>
<line x1="269.55" y1="158.8" x2="269.55" y2="156.8" stroke="#3a3a3a" stroke-width="0.8"/>
<line x1="269.55" y1="158.8" x2="269.55" y2="160.1" stroke="#3a3a3a" stroke-width="0.8"/>
<line x1="269.55" y1="226.8" x2="269.55" y2="225.6" stroke="#3a3a3a" stroke-width="0.8"/>
<line x1="277.55" y1="3.7" x2="277.55" y2="5.7" stroke="#3a3a3a" stroke-width="0.8"/>
<line x1="277.55" y1="158.8" x2="277.55" y2="156.8" stroke="#3a3a3a" stroke-width="0.8"/>
<line x1="277.55" y1="158.8" x2="277.55" y2="160.1" stroke="#3a3a3a" stroke-width="0.8"/>
<line x1="277.55" y1="226.8" x2="277.55" y2="225.6" stroke="#3a3a3a" stroke-width="0.8"/>
<line x1="284.7" y1="3.7" x2="284.7" y2="8.5" stroke="#3a3a3a" stroke-width="0.8"/>
<line x1="284.7" y1="158.8" x2="284.7" y2="154.4" stroke="#3a3a3a" stroke-width="0.8"/>
<line x1="284.7" y1="158.8" x2="284.7" y2="161.6" stroke="#3a3a3a" stroke-width="0.8"/>
<line x1="284.7" y1="226.8" x2="284.7" y2="224.2" stroke="#3a3a3a" stroke-width="0.8"/>
<line x1="331.75" y1="3.7" x2="331.75" y2="5.7" stroke="#3a3a3a" stroke-width="0.8"/>
<line x1="331.75" y1="158.8" x2="331.75" y2="156.8" stroke="#3a3a3a" stroke-width="0.8"/>
<line x1="331.75" y1="158.8" x2="331.75" y2="160.1" stroke="#3a3a3a" stroke-width="0.8"/>
<line x1="331.75" y1="226.8" x2="331.75" y2="225.6" stroke="#3a3a3a" stroke-width="0.8"/>
<line x1="359.27" y1="3.7" x2="359.27" y2="5.7" stroke="#3a3a3a" stroke-width="0.8"/>
<line x1="359.27" y1="158.8" x2="359.27" y2="156.8" stroke="#3a3a3a" stroke-width="0.8"/>
<line x1="359.27" y1="158.8" x2="359.27" y2="160.1" stroke="#3a3a3a" stroke-width="0.8"/>
<line x1="359.27" y1="226.8" x2="359.27" y2="225.6" stroke="#3a3a3a" stroke-width="0.8"/>
<line x1="378.8" y1="3.7" x2="378.8" y2="5.7" stroke="#3a3a3a" stroke-width="0.8"/>
<line x1="378.8" y1="158.8" x2="378.8" y2="156.8" stroke="#3a3a3a" stroke-width="0.8"/>
<line x1="378.8" y1="158.8" x2="378.8" y2="160.1" stroke="#3a3a3a" stroke-width="0.8"/>
<line x1="378.8" y1="226.8" x2="378.8" y2="225.6" stroke="#3a3a3a" stroke-width="0.8"/>
<line x1="393.95" y1="3.7" x2="393.95" y2="5.7" stroke="#3a3a3a" stroke-width="0.8"/>
<line x1="393.95" y1="158.8" x2="393.95" y2="156.8" stroke="#3a3a3a" stroke-width="0.8"/>
<line x1="393.95" y1="158.8" x2="393.95" y2="160.1" stroke="#3a3a3a" stroke-width="0.8"/>
<line x1="393.95" y1="226.8" x2="393.95" y2="225.6" stroke="#3a3a3a" stroke-width="0.8"/>
<line x1="406.33" y1="3.7" x2="406.33" y2="5.7" stroke="#3a3a3a" stroke-width="0.8"/>
<line x1="406.33" y1="158.8" x2="406.33" y2="156.8" stroke="#3a3a3a" stroke-width="0.8"/>
<line x1="406.33" y1="158.8" x2="406.33" y2="160.1" stroke="#3a3a3a" stroke-width="0.8"/>
<line x1="406.33" y1="226.8" x2="406.33" y2="225.6" stroke="#3a3a3a" stroke-width="0.8"/>
<line x1="416.79" y1="3.7" x2="416.79" y2="5.7" stroke="#3a3a3a" stroke-width="0.8"/>
<line x1="416.79" y1="158.8" x2="416.79" y2="156.8" stroke="#3a3a3a" stroke-width="0.8"/>
<line x1="416.79" y1="158.8" x2="416.79" y2="160.1" stroke="#3a3a3a" stroke-width="0.8"/>
<line x1="416.79" y1="226.8" x2="416.79" y2="225.6" stroke="#3a3a3a" stroke-width="0.8"/>
<line x1="425.85" y1="3.7" x2="425.85" y2="5.7" stroke="#3a3a3a" stroke-width="0.8"/>
<line x1="425.85" y1="158.8" x2="425.85" y2="156.8" stroke="#3a3a3a" stroke-width="0.8"/>
<line x1="425.85" y1="158.8" x2="425.85" y2="160.1" stroke="#3a3a3a" stroke-width="0.8"/>
<line x1="425.85" y1="226.8" x2="425.85" y2="225.6" stroke="#3a3a3a" stroke-width="0.8"/>
<line x1="433.85" y1="3.7" x2="433.85" y2="5.7" stroke="#3a3a3a" stroke-width="0.8"/>
<line x1="433.85" y1="158.8" x2="433.85" y2="156.8" stroke="#3a3a3a" stroke-width="0.8"/>
<line x1="433.85" y1="158.8" x2="433.85" y2="160.1" stroke="#3a3a3a" stroke-width="0.8"/>
<line x1="433.85" y1="226.8" x2="433.85" y2="225.6" stroke="#3a3a3a" stroke-width="0.8"/>
<line x1="441" y1="3.7" x2="441" y2="8.5" stroke="#3a3a3a" stroke-width="0.8"/>
<line x1="441" y1="158.8" x2="441" y2="154.4" stroke="#3a3a3a" stroke-width="0.8"/>
<line x1="441" y1="158.8" x2="441" y2="161.6" stroke="#3a3a3a" stroke-width="0.8"/>
<line x1="441" y1="226.8" x2="441" y2="224.2" stroke="#3a3a3a" stroke-width="0.8"/>
<line x1="260.5" y1="158.5" x2="267" y2="158.5" stroke="#3a3a3a" stroke-width="0.8"/>
<line x1="453.4" y1="158.5" x2="446.9" y2="158.5" stroke="#3a3a3a" stroke-width="0.8"/>
<line x1="260.5" y1="154.63" x2="263.9" y2="154.63" stroke="#3a3a3a" stroke-width="0.8"/>
<line x1="453.4" y1="154.63" x2="450" y2="154.63" stroke="#3a3a3a" stroke-width="0.8"/>
<line x1="260.5" y1="150.77" x2="263.9" y2="150.77" stroke="#3a3a3a" stroke-width="0.8"/>
<line x1="453.4" y1="150.77" x2="450" y2="150.77" stroke="#3a3a3a" stroke-width="0.8"/>
<line x1="260.5" y1="146.9" x2="263.9" y2="146.9" stroke="#3a3a3a" stroke-width="0.8"/>
<line x1="453.4" y1="146.9" x2="450" y2="146.9" stroke="#3a3a3a" stroke-width="0.8"/>
<line x1="260.5" y1="143.04" x2="263.9" y2="143.04" stroke="#3a3a3a" stroke-width="0.8"/>
<line x1="453.4" y1="143.04" x2="450" y2="143.04" stroke="#3a3a3a" stroke-width="0.8"/>
<line x1="260.5" y1="139.17" x2="267" y2="139.17" stroke="#3a3a3a" stroke-width="0.8"/>
<line x1="453.4" y1="139.17" x2="446.9" y2="139.17" stroke="#3a3a3a" stroke-width="0.8"/>
<line x1="260.5" y1="135.3" x2="263.9" y2="135.3" stroke="#3a3a3a" stroke-width="0.8"/>
<line x1="453.4" y1="135.3" x2="450" y2="135.3" stroke="#3a3a3a" stroke-width="0.8"/>
<line x1="260.5" y1="131.44" x2="263.9" y2="131.44" stroke="#3a3a3a" stroke-width="0.8"/>
<line x1="453.4" y1="131.44" x2="450" y2="131.44" stroke="#3a3a3a" stroke-width="0.8"/>
<line x1="260.5" y1="127.57" x2="263.9" y2="127.57" stroke="#3a3a3a" stroke-width="0.8"/>
<line x1="453.4" y1="127.57" x2="450" y2="127.57" stroke="#3a3a3a" stroke-width="0.8"/>
<line x1="260.5" y1="123.71" x2="263.9" y2="123.71" stroke="#3a3a3a" stroke-width="0.8"/>
<line x1="453.4" y1="123.71" x2="450" y2="123.71" stroke="#3a3a3a" stroke-width="0.8"/>
<line x1="260.5" y1="119.84" x2="267" y2="119.84" stroke="#3a3a3a" stroke-width="0.8"/>
<line x1="453.4" y1="119.84" x2="446.9" y2="119.84" stroke="#3a3a3a" stroke-width="0.8"/>
<line x1="260.5" y1="115.97" x2="263.9" y2="115.97" stroke="#3a3a3a" stroke-width="0.8"/>
<line x1="453.4" y1="115.97" x2="450" y2="115.97" stroke="#3a3a3a" stroke-width="0.8"/>
<line x1="260.5" y1="112.11" x2="263.9" y2="112.11" stroke="#3a3a3a" stroke-width="0.8"/>
<line x1="453.4" y1="112.11" x2="450" y2="112.11" stroke="#3a3a3a" stroke-width="0.8"/>
<line x1="260.5" y1="108.24" x2="263.9" y2="108.24" stroke="#3a3a3a" stroke-width="0.8"/>
<line x1="453.4" y1="108.24" x2="450" y2="108.24" stroke="#3a3a3a" stroke-width="0.8"/>
<line x1="260.5" y1="104.38" x2="263.9" y2="104.38" stroke="#3a3a3a" stroke-width="0.8"/>
<line x1="453.4" y1="104.38" x2="450" y2="104.38" stroke="#3a3a3a" stroke-width="0.8"/>
<line x1="260.5" y1="100.51" x2="267" y2="100.51" stroke="#3a3a3a" stroke-width="0.8"/>
<line x1="453.4" y1="100.51" x2="446.9" y2="100.51" stroke="#3a3a3a" stroke-width="0.8"/>
<line x1="260.5" y1="96.64" x2="263.9" y2="96.64" stroke="#3a3a3a" stroke-width="0.8"/>
<line x1="453.4" y1="96.64" x2="450" y2="96.64" stroke="#3a3a3a" stroke-width="0.8"/>
<line x1="260.5" y1="92.78" x2="263.9" y2="92.78" stroke="#3a3a3a" stroke-width="0.8"/>
<line x1="453.4" y1="92.78" x2="450" y2="92.78" stroke="#3a3a3a" stroke-width="0.8"/>
<line x1="260.5" y1="88.91" x2="263.9" y2="88.91" stroke="#3a3a3a" stroke-width="0.8"/>
<line x1="453.4" y1="88.91" x2="450" y2="88.91" stroke="#3a3a3a" stroke-width="0.8"/>
<line x1="260.5" y1="85.05" x2="263.9" y2="85.05" stroke="#3a3a3a" stroke-width="0.8"/>
<line x1="453.4" y1="85.05" x2="450" y2="85.05" stroke="#3a3a3a" stroke-width="0.8"/>
<line x1="260.5" y1="81.18" x2="267" y2="81.18" stroke="#3a3a3a" stroke-width="0.8"/>
<line x1="453.4" y1="81.18" x2="446.9" y2="81.18" stroke="#3a3a3a" stroke-width="0.8"/>
<line x1="260.5" y1="77.31" x2="263.9" y2="77.31" stroke="#3a3a3a" stroke-width="0.8"/>
<line x1="453.4" y1="77.31" x2="450" y2="77.31" stroke="#3a3a3a" stroke-width="0.8"/>
<line x1="260.5" y1="73.45" x2="263.9" y2="73.45" stroke="#3a3a3a" stroke-width="0.8"/>
<line x1="453.4" y1="73.45" x2="450" y2="73.45" stroke="#3a3a3a" stroke-width="0.8"/>
<line x1="260.5" y1="69.58" x2="263.9" y2="69.58" stroke="#3a3a3a" stroke-width="0.8"/>
<line x1="453.4" y1="69.58" x2="450" y2="69.58" stroke="#3a3a3a" stroke-width="0.8"/>
<line x1="260.5" y1="65.72" x2="263.9" y2="65.72" stroke="#3a3a3a" stroke-width="0.8"/>
<line x1="453.4" y1="65.72" x2="450" y2="65.72" stroke="#3a3a3a" stroke-width="0.8"/>
<line x1="260.5" y1="61.85" x2="267" y2="61.85" stroke="#3a3a3a" stroke-width="0.8"/>
<line x1="453.4" y1="61.85" x2="446.9" y2="61.85" stroke="#3a3a3a" stroke-width="0.8"/>
<line x1="260.5" y1="57.98" x2="263.9" y2="57.98" stroke="#3a3a3a" stroke-width="0.8"/>
<line x1="453.4" y1="57.98" x2="450" y2="57.98" stroke="#3a3a3a" stroke-width="0.8"/>
<line x1="260.5" y1="54.12" x2="263.9" y2="54.12" stroke="#3a3a3a" stroke-width="0.8"/>
<line x1="453.4" y1="54.12" x2="450" y2="54.12" stroke="#3a3a3a" stroke-width="0.8"/>
<line x1="260.5" y1="50.25" x2="263.9" y2="50.25" stroke="#3a3a3a" stroke-width="0.8"/>
<line x1="453.4" y1="50.25" x2="450" y2="50.25" stroke="#3a3a3a" stroke-width="0.8"/>
<line x1="260.5" y1="46.39" x2="263.9" y2="46.39" stroke="#3a3a3a" stroke-width="0.8"/>
<line x1="453.4" y1="46.39" x2="450" y2="46.39" stroke="#3a3a3a" stroke-width="0.8"/>
<line x1="260.5" y1="42.52" x2="267" y2="42.52" stroke="#3a3a3a" stroke-width="0.8"/>
<line x1="453.4" y1="42.52" x2="446.9" y2="42.52" stroke="#3a3a3a" stroke-width="0.8"/>
<line x1="260.5" y1="38.65" x2="263.9" y2="38.65" stroke="#3a3a3a" stroke-width="0.8"/>
<line x1="453.4" y1="38.65" x2="450" y2="38.65" stroke="#3a3a3a" stroke-width="0.8"/>
<line x1="260.5" y1="34.79" x2="263.9" y2="34.79" stroke="#3a3a3a" stroke-width="0.8"/>
<line x1="453.4" y1="34.79" x2="450" y2="34.79" stroke="#3a3a3a" stroke-width="0.8"/>
<line x1="260.5" y1="30.92" x2="263.9" y2="30.92" stroke="#3a3a3a" stroke-width="0.8"/>
<line x1="453.4" y1="30.92" x2="450" y2="30.92" stroke="#3a3a3a" stroke-width="0.8"/>
<line x1="260.5" y1="27.06" x2="263.9" y2="27.06" stroke="#3a3a3a" stroke-width="0.8"/>
<line x1="453.4" y1="27.06" x2="450" y2="27.06" stroke="#3a3a3a" stroke-width="0.8"/>
<line x1="260.5" y1="23.19" x2="267" y2="23.19" stroke="#3a3a3a" stroke-width="0.8"/>
<line x1="453.4" y1="23.19" x2="446.9" y2="23.19" stroke="#3a3a3a" stroke-width="0.8"/>
<line x1="260.5" y1="19.32" x2="263.9" y2="19.32" stroke="#3a3a3a" stroke-width="0.8"/>
<line x1="453.4" y1="19.32" x2="450" y2="19.32" stroke="#3a3a3a" stroke-width="0.8"/>
<line x1="260.5" y1="15.46" x2="263.9" y2="15.46" stroke="#3a3a3a" stroke-width="0.8"/>
<line x1="453.4" y1="15.46" x2="450" y2="15.46" stroke="#3a3a3a" stroke-width="0.8"/>
<line x1="260.5" y1="11.59" x2="263.9" y2="11.59" stroke="#3a3a3a" stroke-width="0.8"/>
<line x1="453.4" y1="11.59" x2="450" y2="11.59" stroke="#3a3a3a" stroke-width="0.8"/>
<line x1="260.5" y1="7.73" x2="263.9" y2="7.73" stroke="#3a3a3a" stroke-width="0.8"/>
<line x1="453.4" y1="7.73" x2="450" y2="7.73" stroke="#3a3a3a" stroke-width="0.8"/>
<line x1="260.5" y1="3.86" x2="267" y2="3.86" stroke="#3a3a3a" stroke-width="0.8"/>
<line x1="453.4" y1="3.86" x2="446.9" y2="3.86" stroke="#3a3a3a" stroke-width="0.8"/>
<text x="259.9" y="142.07" font-size="7.9" text-anchor="end" >0.01</text>
<text x="259.9" y="122.74" font-size="7.9" text-anchor="end" >0.02</text>
<text x="259.9" y="103.41" font-size="7.9" text-anchor="end" >0.03</text>
<text x="259.9" y="84.08" font-size="7.9" text-anchor="end" >0.04</text>
<text x="259.9" y="64.75" font-size="7.9" text-anchor="end" >0.05</text>
<text x="259.9" y="45.42" font-size="7.9" text-anchor="end" >0.06</text>
<text x="259.9" y="26.09" font-size="7.9" text-anchor="end" >0.07</text>
<text x="259.9" y="6.76" font-size="7.9" text-anchor="end" >0.08</text>
<line x1="260.5" y1="225.46" x2="263.4" y2="225.46" stroke="#3a3a3a" stroke-width="0.8"/>
<line x1="453.4" y1="225.46" x2="450.5" y2="225.46" stroke="#3a3a3a" stroke-width="0.8"/>
<line x1="260.5" y1="222.73" x2="263.4" y2="222.73" stroke="#3a3a3a" stroke-width="0.8"/>
<line x1="453.4" y1="222.73" x2="450.5" y2="222.73" stroke="#3a3a3a" stroke-width="0.8"/>
<line x1="260.5" y1="220" x2="265.9" y2="220" stroke="#3a3a3a" stroke-width="0.8"/>
<line x1="453.4" y1="220" x2="448" y2="220" stroke="#3a3a3a" stroke-width="0.8"/>
<line x1="260.5" y1="217.27" x2="263.4" y2="217.27" stroke="#3a3a3a" stroke-width="0.8"/>
<line x1="453.4" y1="217.27" x2="450.5" y2="217.27" stroke="#3a3a3a" stroke-width="0.8"/>
<line x1="260.5" y1="214.54" x2="263.4" y2="214.54" stroke="#3a3a3a" stroke-width="0.8"/>
<line x1="453.4" y1="214.54" x2="450.5" y2="214.54" stroke="#3a3a3a" stroke-width="0.8"/>
<line x1="260.5" y1="211.81" x2="263.4" y2="211.81" stroke="#3a3a3a" stroke-width="0.8"/>
<line x1="453.4" y1="211.81" x2="450.5" y2="211.81" stroke="#3a3a3a" stroke-width="0.8"/>
<line x1="260.5" y1="209.08" x2="263.4" y2="209.08" stroke="#3a3a3a" stroke-width="0.8"/>
<line x1="453.4" y1="209.08" x2="450.5" y2="209.08" stroke="#3a3a3a" stroke-width="0.8"/>
<line x1="260.5" y1="206.35" x2="265.9" y2="206.35" stroke="#3a3a3a" stroke-width="0.8"/>
<line x1="453.4" y1="206.35" x2="448" y2="206.35" stroke="#3a3a3a" stroke-width="0.8"/>
<line x1="260.5" y1="203.62" x2="263.4" y2="203.62" stroke="#3a3a3a" stroke-width="0.8"/>
<line x1="453.4" y1="203.62" x2="450.5" y2="203.62" stroke="#3a3a3a" stroke-width="0.8"/>
<line x1="260.5" y1="200.89" x2="263.4" y2="200.89" stroke="#3a3a3a" stroke-width="0.8"/>
<line x1="453.4" y1="200.89" x2="450.5" y2="200.89" stroke="#3a3a3a" stroke-width="0.8"/>
<line x1="260.5" y1="198.16" x2="263.4" y2="198.16" stroke="#3a3a3a" stroke-width="0.8"/>
<line x1="453.4" y1="198.16" x2="450.5" y2="198.16" stroke="#3a3a3a" stroke-width="0.8"/>
<line x1="260.5" y1="195.43" x2="263.4" y2="195.43" stroke="#3a3a3a" stroke-width="0.8"/>
<line x1="453.4" y1="195.43" x2="450.5" y2="195.43" stroke="#3a3a3a" stroke-width="0.8"/>
<line x1="260.5" y1="192.7" x2="265.9" y2="192.7" stroke="#3a3a3a" stroke-width="0.8"/>
<line x1="453.4" y1="192.7" x2="448" y2="192.7" stroke="#3a3a3a" stroke-width="0.8"/>
<line x1="260.5" y1="189.97" x2="263.4" y2="189.97" stroke="#3a3a3a" stroke-width="0.8"/>
<line x1="453.4" y1="189.97" x2="450.5" y2="189.97" stroke="#3a3a3a" stroke-width="0.8"/>
<line x1="260.5" y1="187.24" x2="263.4" y2="187.24" stroke="#3a3a3a" stroke-width="0.8"/>
<line x1="453.4" y1="187.24" x2="450.5" y2="187.24" stroke="#3a3a3a" stroke-width="0.8"/>
<line x1="260.5" y1="184.51" x2="263.4" y2="184.51" stroke="#3a3a3a" stroke-width="0.8"/>
<line x1="453.4" y1="184.51" x2="450.5" y2="184.51" stroke="#3a3a3a" stroke-width="0.8"/>
<line x1="260.5" y1="181.78" x2="263.4" y2="181.78" stroke="#3a3a3a" stroke-width="0.8"/>
<line x1="453.4" y1="181.78" x2="450.5" y2="181.78" stroke="#3a3a3a" stroke-width="0.8"/>
<line x1="260.5" y1="179.05" x2="265.9" y2="179.05" stroke="#3a3a3a" stroke-width="0.8"/>
<line x1="453.4" y1="179.05" x2="448" y2="179.05" stroke="#3a3a3a" stroke-width="0.8"/>
<line x1="260.5" y1="176.32" x2="263.4" y2="176.32" stroke="#3a3a3a" stroke-width="0.8"/>
<line x1="453.4" y1="176.32" x2="450.5" y2="176.32" stroke="#3a3a3a" stroke-width="0.8"/>
<line x1="260.5" y1="173.59" x2="263.4" y2="173.59" stroke="#3a3a3a" stroke-width="0.8"/>
<line x1="453.4" y1="173.59" x2="450.5" y2="173.59" stroke="#3a3a3a" stroke-width="0.8"/>
<line x1="260.5" y1="170.86" x2="263.4" y2="170.86" stroke="#3a3a3a" stroke-width="0.8"/>
<line x1="453.4" y1="170.86" x2="450.5" y2="170.86" stroke="#3a3a3a" stroke-width="0.8"/>
<line x1="260.5" y1="168.13" x2="263.4" y2="168.13" stroke="#3a3a3a" stroke-width="0.8"/>
<line x1="453.4" y1="168.13" x2="450.5" y2="168.13" stroke="#3a3a3a" stroke-width="0.8"/>
<line x1="260.5" y1="165.4" x2="265.9" y2="165.4" stroke="#3a3a3a" stroke-width="0.8"/>
<line x1="453.4" y1="165.4" x2="448" y2="165.4" stroke="#3a3a3a" stroke-width="0.8"/>
<line x1="260.5" y1="162.67" x2="263.4" y2="162.67" stroke="#3a3a3a" stroke-width="0.8"/>
<line x1="453.4" y1="162.67" x2="450.5" y2="162.67" stroke="#3a3a3a" stroke-width="0.8"/>
<line x1="260.5" y1="159.94" x2="263.4" y2="159.94" stroke="#3a3a3a" stroke-width="0.8"/>
<line x1="453.4" y1="159.94" x2="450.5" y2="159.94" stroke="#3a3a3a" stroke-width="0.8"/>
<text x="259.6" y="168.4" font-size="7.9" text-anchor="end" >1.2</text>
<text x="259.6" y="182.05" font-size="7.9" text-anchor="end" >1.1</text>
<text x="259.6" y="209.35" font-size="7.9" text-anchor="end" >0.9</text>
<text x="259.6" y="223" font-size="7.9" text-anchor="end" >0.8</text>
<path d="M257.9 192.6L259.6 190.9L259.6 195.5" fill="none" stroke="#444" stroke-width="0.8"/>
<text x="284.7" y="236.9" font-size="8.0" text-anchor="middle" >10</text>
<text x="439.7" y="236.9" font-size="8.0" text-anchor="middle" >10</text>
<text x="443.9" y="233.4" font-size="4.4" text-anchor="start" >2</text>
<line x1="403.1" y1="238.9" x2="406.3" y2="238.9" stroke="#222" stroke-width="0.8"/>
<text x="402.8" y="244.4" font-size="7.6" text-anchor="start" >p</text>
<text x="407.5" y="247.8" font-size="4.0" text-anchor="start" >T</text>
<text x="410.1" y="244.4" font-size="7.6" text-anchor="start" >,</text>
<text x="413.9" y="244.4" font-size="7.6" text-anchor="start" >p</text>
<text x="417.9" y="243" font-size="5.6" text-anchor="start" >*</text>
<text x="422.1" y="247.8" font-size="4.0" text-anchor="start" >T</text>
<text x="453.8" y="245.2" font-size="7.5" text-anchor="end" >[GeV]</text>
<text transform="translate(238.1,45) rotate(-90)" font-size="8.0">σ(m<tspan font-size="5.2" dy="2.6">μμ</tspan><tspan dy="-2.6">) / m</tspan><tspan font-size="5.2" dy="2.6">μμ</tspan></text>
<text transform="translate(239.9,188) rotate(-90)" font-size="6.7">Data / MC</text>
<text x="275.9" y="19.6" font-size="8.1" font-weight="bold" font-style="italic">ATLAS</text>
<text x="276.1" y="29.7" font-size="7.6" text-anchor="start" >ID</text>
<text x="292.8" y="29.7" font-size="7.6" text-anchor="start" >1&lt;|η|&lt;2</text>
<path d="M276.5 38.3L277.4 37.7L278.5 40.9L279.4 34.4L283.8 34.4" fill="none" stroke="#222" stroke-width="0.85"/>
<text x="280.1" y="41" font-size="7.9" text-anchor="start" >s</text>
<line x1="284.5" y1="37.3" x2="287.8" y2="37.3" stroke="#333" stroke-width="0.8"/>
<line x1="284.5" y1="39.3" x2="287.8" y2="39.3" stroke="#333" stroke-width="0.8"/>
<text x="288.7" y="41" font-size="7.9" text-anchor="start" >8 TeV</text>
<text x="276.1" y="52.7" font-size="7.9" text-anchor="start" >L</text>
<line x1="282.8" y1="49.2" x2="285.7" y2="49.2" stroke="#333" stroke-width="0.85"/>
<line x1="282.8" y1="50.9" x2="285.7" y2="50.9" stroke="#333" stroke-width="0.85"/>
<text x="289.3" y="52.7" font-size="7.9" text-anchor="start" >20.3 fb<tspan font-size="5.2" dy="-3.2">-1</tspan></text>
<circle cx="372.9" cy="20.5" r="2.3" fill="#000"/>
<circle cx="372.9" cy="32" r="2.1" fill="none" stroke="#ff0000" stroke-width="0.9"/>
<path d="M370.3 40.39L375.5 40.39L372.9 45.46Z" fill="#0000ff"/>
<text x="378.3" y="23.5" font-size="8.0" text-anchor="start" >Z</text>
<text x="378.3" y="34.8" font-size="8.0" text-anchor="start" >Υ</text>
<text x="378.3" y="45.5" font-size="8.0" text-anchor="start" >J/ψ</text>
<text x="270.8" y="221.3" font-size="6.4" text-anchor="start" >Uncertainty</text>
<rect x="308.8" y="216.3" width="3.7" height="6.2" fill="#00ffff" stroke="#333" stroke-width="0.7"/>
<text x="313.1" y="221.3" font-size="6.4" text-anchor="start" >J/ψ</text>
<rect x="329.4" y="216.3" width="3.5" height="6.2" fill="#ffcc00" stroke="#333" stroke-width="0.7"/>
<text x="333.9" y="221.3" font-size="6.4" text-anchor="start" >Υ</text>
<rect x="342.9" y="216.3" width="3.5" height="6.2" fill="#ffff00" stroke="#333" stroke-width="0.7"/>
<text x="347.3" y="221.3" font-size="6.4" text-anchor="start" >Z</text>
<line x1="260.5" y1="116.2" x2="263.17" y2="116.2" stroke="#ff0000" stroke-width="0.75"/>
<line x1="267.17" y1="116.2" x2="269.55" y2="116.2" stroke="#ff0000" stroke-width="0.75"/>
<line x1="269.55" y1="116.1" x2="275.55" y2="116.1" stroke="#ff0000" stroke-width="0.75"/>
<line x1="279.55" y1="116.1" x2="284.7" y2="116.1" stroke="#ff0000" stroke-width="0.75"/>
<line x1="284.7" y1="115.3" x2="289.17" y2="115.3" stroke="#ff0000" stroke-width="0.75"/>
<line x1="293.17" y1="115.3" x2="297.08" y2="115.3" stroke="#ff0000" stroke-width="0.75"/>
<line x1="297.08" y1="114.1" x2="303.07" y2="114.1" stroke="#ff0000" stroke-width="0.75"/>
<line x1="307.07" y1="114.1" x2="312.22" y2="114.1" stroke="#ff0000" stroke-width="0.75"/>
<line x1="312.22" y1="113.1" x2="320.69" y2="113.1" stroke="#ff0000" stroke-width="0.75"/>
<line x1="324.69" y1="113.1" x2="331.75" y2="113.1" stroke="#ff0000" stroke-width="0.75"/>
<line x1="331.75" y1="112.2" x2="337.75" y2="112.2" stroke="#ff0000" stroke-width="0.75"/>
<line x1="341.75" y1="112.2" x2="346.9" y2="112.2" stroke="#ff0000" stroke-width="0.75"/>
<line x1="346.9" y1="108.2" x2="351.37" y2="108.2" stroke="#ff0000" stroke-width="0.75"/>
<line x1="355.37" y1="108.2" x2="359.27" y2="108.2" stroke="#ff0000" stroke-width="0.75"/>
<line x1="359.27" y1="110.4" x2="372.42" y2="110.4" stroke="#ff0000" stroke-width="0.75"/>
<line x1="376.42" y1="110.4" x2="386.8" y2="110.4" stroke="#ff0000" stroke-width="0.75"/>
<circle cx="265.17" cy="116.2" r="2.1" fill="none" stroke="#ff0000" stroke-width="0.9"/>
<circle cx="277.55" cy="116.1" r="2.1" fill="none" stroke="#ff0000" stroke-width="0.9"/>
<circle cx="291.17" cy="115.3" r="2.1" fill="none" stroke="#ff0000" stroke-width="0.9"/>
<circle cx="305.07" cy="114.1" r="2.1" fill="none" stroke="#ff0000" stroke-width="0.9"/>
<circle cx="322.69" cy="113.1" r="2.1" fill="none" stroke="#ff0000" stroke-width="0.9"/>
<circle cx="339.75" cy="112.2" r="2.1" fill="none" stroke="#ff0000" stroke-width="0.9"/>
<circle cx="353.37" cy="108.2" r="2.1" fill="none" stroke="#ff0000" stroke-width="0.9"/>
<circle cx="374.42" cy="110.4" r="2.1" fill="none" stroke="#ff0000" stroke-width="0.9"/>
<line x1="260.5" y1="117.8" x2="269.55" y2="117.8" stroke="#0000ff" stroke-width="0.8"/>
<line x1="269.55" y1="117.8" x2="277.55" y2="117.8" stroke="#0000ff" stroke-width="0.8"/>
<line x1="277.55" y1="117.5" x2="284.7" y2="117.5" stroke="#0000ff" stroke-width="0.8"/>
<line x1="284.7" y1="116.8" x2="297.08" y2="116.8" stroke="#0000ff" stroke-width="0.8"/>
<line x1="297.08" y1="116.2" x2="312.22" y2="116.2" stroke="#0000ff" stroke-width="0.8"/>
<line x1="312.22" y1="115.8" x2="331.75" y2="115.8" stroke="#0000ff" stroke-width="0.8"/>
<line x1="331.75" y1="113.8" x2="359.27" y2="113.8" stroke="#0000ff" stroke-width="0.8"/>
<line x1="359.27" y1="110.8" x2="386.8" y2="110.8" stroke="#0000ff" stroke-width="0.8"/>
<path d="M262.77 115.76L267.57 115.76L265.17 120.44Z" fill="#0000ff"/>
<path d="M271.27 115.76L276.07 115.76L273.67 120.44Z" fill="#0000ff"/>
<path d="M278.82 115.46L283.62 115.46L281.22 120.14Z" fill="#0000ff"/>
<path d="M288.77 114.76L293.57 114.76L291.17 119.44Z" fill="#0000ff"/>
<path d="M302.67 114.16L307.47 114.16L305.07 118.84Z" fill="#0000ff"/>
<path d="M320.29 113.76L325.09 113.76L322.69 118.44Z" fill="#0000ff"/>
<path d="M344.5 111.76L349.3 111.76L346.9 116.44Z" fill="#0000ff"/>
<path d="M372.02 108.76L376.82 108.76L374.42 113.44Z" fill="#0000ff"/>
<line x1="331.75" y1="117.3" x2="359.27" y2="117.3" stroke="#000" stroke-width="0.9"/>
<line x1="359.27" y1="119.6" x2="369.74" y2="119.6" stroke="#000" stroke-width="0.9"/>
<line x1="369.74" y1="114.4" x2="378.8" y2="114.4" stroke="#000" stroke-width="0.9"/>
<line x1="378.8" y1="107" x2="386.8" y2="107" stroke="#000" stroke-width="0.9"/>
<line x1="386.8" y1="105.2" x2="393.95" y2="105.2" stroke="#000" stroke-width="0.9"/>
<line x1="393.95" y1="102.8" x2="406.33" y2="102.8" stroke="#000" stroke-width="0.9"/>
<line x1="400.42" y1="98.4" x2="400.42" y2="107.6" stroke="#000" stroke-width="0.9"/>
<line x1="406.33" y1="97" x2="416.79" y2="97" stroke="#000" stroke-width="0.9"/>
<line x1="411.76" y1="90.9" x2="411.76" y2="103" stroke="#000" stroke-width="0.9"/>
<line x1="416.79" y1="87.6" x2="453.38" y2="87.6" stroke="#000" stroke-width="0.9"/>
<line x1="437.52" y1="76.6" x2="437.52" y2="98.6" stroke="#000" stroke-width="0.9"/>
<circle cx="346.9" cy="117.3" r="2.35" fill="#000"/>
<circle cx="364.71" cy="119.6" r="2.35" fill="#000"/>
<circle cx="374.42" cy="114.4" r="2.35" fill="#000"/>
<circle cx="382.92" cy="107" r="2.35" fill="#000"/>
<circle cx="390.47" cy="105.2" r="2.35" fill="#000"/>
<circle cx="400.42" cy="102.8" r="2.35" fill="#000"/>
<circle cx="411.76" cy="97" r="2.35" fill="#000"/>
<circle cx="437.52" cy="87.6" r="2.35" fill="#000"/>
<line x1="260.5" y1="193" x2="263.17" y2="193" stroke="#ff0000" stroke-width="0.75"/>
<line x1="267.17" y1="193" x2="269.55" y2="193" stroke="#ff0000" stroke-width="0.75"/>
<line x1="269.55" y1="194.5" x2="275.55" y2="194.5" stroke="#ff0000" stroke-width="0.75"/>
<line x1="279.55" y1="194.5" x2="284.7" y2="194.5" stroke="#ff0000" stroke-width="0.75"/>
<line x1="284.7" y1="195.6" x2="289.17" y2="195.6" stroke="#ff0000" stroke-width="0.75"/>
<line x1="293.17" y1="195.6" x2="297.08" y2="195.6" stroke="#ff0000" stroke-width="0.75"/>
<line x1="297.08" y1="192.6" x2="303.07" y2="192.6" stroke="#ff0000" stroke-width="0.75"/>
<line x1="307.07" y1="192.6" x2="312.22" y2="192.6" stroke="#ff0000" stroke-width="0.75"/>
<line x1="312.22" y1="190.1" x2="320.69" y2="190.1" stroke="#ff0000" stroke-width="0.75"/>
<line x1="324.69" y1="190.1" x2="331.75" y2="190.1" stroke="#ff0000" stroke-width="0.75"/>
<line x1="331.75" y1="193" x2="337.75" y2="193" stroke="#ff0000" stroke-width="0.75"/>
<line x1="341.75" y1="193" x2="346.9" y2="193" stroke="#ff0000" stroke-width="0.75"/>
<line x1="346.9" y1="187" x2="351.37" y2="187" stroke="#ff0000" stroke-width="0.75"/>
<line x1="355.37" y1="187" x2="359.27" y2="187" stroke="#ff0000" stroke-width="0.75"/>
<line x1="353.37" y1="182" x2="353.37" y2="185" stroke="#ff0000" stroke-width="0.75"/>
<line x1="353.37" y1="189" x2="353.37" y2="192" stroke="#ff0000" stroke-width="0.75"/>
<line x1="359.27" y1="198" x2="372.42" y2="198" stroke="#ff0000" stroke-width="0.75"/>
<line x1="376.42" y1="198" x2="386.8" y2="198" stroke="#ff0000" stroke-width="0.75"/>
<line x1="374.42" y1="193" x2="374.42" y2="196" stroke="#ff0000" stroke-width="0.75"/>
<line x1="374.42" y1="200" x2="374.42" y2="206" stroke="#ff0000" stroke-width="0.75"/>
<circle cx="265.17" cy="193" r="2.1" fill="none" stroke="#ff0000" stroke-width="0.9"/>
<circle cx="277.55" cy="194.5" r="2.1" fill="none" stroke="#ff0000" stroke-width="0.9"/>
<circle cx="291.17" cy="195.6" r="2.1" fill="none" stroke="#ff0000" stroke-width="0.9"/>
<circle cx="305.07" cy="192.6" r="2.1" fill="none" stroke="#ff0000" stroke-width="0.9"/>
<circle cx="322.69" cy="190.1" r="2.1" fill="none" stroke="#ff0000" stroke-width="0.9"/>
<circle cx="339.75" cy="193" r="2.1" fill="none" stroke="#ff0000" stroke-width="0.9"/>
<circle cx="353.37" cy="187" r="2.1" fill="none" stroke="#ff0000" stroke-width="0.9"/>
<circle cx="374.42" cy="198" r="2.1" fill="none" stroke="#ff0000" stroke-width="0.9"/>
<line x1="260.5" y1="192.4" x2="269.55" y2="192.4" stroke="#0000ff" stroke-width="0.8"/>
<line x1="269.55" y1="193.8" x2="277.55" y2="193.8" stroke="#0000ff" stroke-width="0.8"/>
<line x1="277.55" y1="192.2" x2="284.7" y2="192.2" stroke="#0000ff" stroke-width="0.8"/>
<line x1="284.7" y1="192.8" x2="297.08" y2="192.8" stroke="#0000ff" stroke-width="0.8"/>
<line x1="297.08" y1="192" x2="312.22" y2="192" stroke="#0000ff" stroke-width="0.8"/>
<line x1="312.22" y1="193.2" x2="331.75" y2="193.2" stroke="#0000ff" stroke-width="0.8"/>
<line x1="331.75" y1="194.6" x2="359.27" y2="194.6" stroke="#0000ff" stroke-width="0.8"/>
<line x1="359.27" y1="190.2" x2="386.8" y2="190.2" stroke="#0000ff" stroke-width="0.8"/>
<line x1="374.42" y1="186.5" x2="374.42" y2="194" stroke="#0000ff" stroke-width="0.8"/>
<path d="M262.77 190.36L267.57 190.36L265.17 195.04Z" fill="#0000ff"/>
<path d="M271.27 191.76L276.07 191.76L273.67 196.44Z" fill="#0000ff"/>
<path d="M278.82 190.16L283.62 190.16L281.22 194.84Z" fill="#0000ff"/>
<path d="M288.77 190.76L293.57 190.76L291.17 195.44Z" fill="#0000ff"/>
<path d="M302.67 189.96L307.47 189.96L305.07 194.64Z" fill="#0000ff"/>
<path d="M320.29 191.16L325.09 191.16L322.69 195.84Z" fill="#0000ff"/>
<path d="M344.5 192.56L349.3 192.56L346.9 197.24Z" fill="#0000ff"/>
<path d="M372.02 188.16L376.82 188.16L374.42 192.84Z" fill="#0000ff"/>
<line x1="331.75" y1="192.5" x2="359.27" y2="192.5" stroke="#000" stroke-width="0.9"/>
<line x1="359.27" y1="196.5" x2="369.74" y2="196.5" stroke="#000" stroke-width="0.9"/>
<line x1="364.71" y1="192" x2="364.71" y2="202.5" stroke="#000" stroke-width="0.9"/>
<line x1="369.74" y1="194.3" x2="378.8" y2="194.3" stroke="#000" stroke-width="0.9"/>
<line x1="378.8" y1="194" x2="386.8" y2="194" stroke="#000" stroke-width="0.9"/>
<line x1="386.8" y1="194" x2="393.95" y2="194" stroke="#000" stroke-width="0.9"/>
<line x1="393.95" y1="200" x2="406.33" y2="200" stroke="#000" stroke-width="0.9"/>
<line x1="400.42" y1="188" x2="400.42" y2="212.7" stroke="#000" stroke-width="0.9"/>
<line x1="406.33" y1="197.8" x2="416.79" y2="197.8" stroke="#000" stroke-width="0.9"/>
<line x1="411.76" y1="180" x2="411.76" y2="215" stroke="#000" stroke-width="0.9"/>
<line x1="416.79" y1="194.4" x2="453.38" y2="194.4" stroke="#000" stroke-width="0.9"/>
<line x1="437.52" y1="168" x2="437.52" y2="221.6" stroke="#000" stroke-width="0.9"/>
<circle cx="346.9" cy="192.5" r="2.35" fill="#000"/>
<circle cx="364.71" cy="196.5" r="2.35" fill="#000"/>
<circle cx="374.42" cy="194.3" r="2.35" fill="#000"/>
<circle cx="382.92" cy="194" r="2.35" fill="#000"/>
<circle cx="390.47" cy="194" r="2.35" fill="#000"/>
<circle cx="400.42" cy="200" r="2.35" fill="#000"/>
<circle cx="411.76" cy="197.8" r="2.35" fill="#000"/>
<circle cx="437.52" cy="194.4" r="2.35" fill="#000"/>
<rect x="491.4" y="183.8" width="9.05" height="15.6" fill="#ffcc00"/>
<rect x="500.45" y="185.8" width="15.15" height="12.1" fill="#ffcc00"/>
<rect x="515.6" y="187.3" width="12.38" height="11.5" fill="#ffcc00"/>
<rect x="527.98" y="186.3" width="15.15" height="12.3" fill="#ffcc00"/>
<rect x="543.12" y="188.2" width="19.53" height="13.3" fill="#ffcc00"/>
<rect x="562.65" y="189" width="15.15" height="7" fill="#ffcc00"/>
<rect x="577.8" y="181.7" width="12.38" height="22.5" fill="#ffcc00"/>
<rect x="590.17" y="183.5" width="27.52" height="18" fill="#ffcc00"/>
<rect x="562.65" y="188.9" width="27.52" height="7.2" fill="#ffff00"/>
<rect x="590.17" y="188" width="27.52" height="9" fill="#ffff00"/>
<rect x="617.7" y="187.4" width="19.53" height="9" fill="#ffff00"/>
<rect x="637.23" y="179" width="10.46" height="27" fill="#ffff00"/>
<rect x="647.69" y="188.6" width="36.59" height="7.8" fill="#ffff00"/>
<line x1="491.4" y1="192.4" x2="684.3" y2="192.4" stroke="#111" stroke-width="0.75"/>
<rect x="491.4" y="3.7" width="192.9" height="223.1" fill="none" stroke="#3a3a3a" stroke-width="0.95"/>
<line x1="491.4" y1="158.8" x2="684.3" y2="158.8" stroke="#3a3a3a" stroke-width="0.9"/>
<line x1="491.39" y1="3.7" x2="491.39" y2="5.7" stroke="#3a3a3a" stroke-width="0.8"/>
<line x1="491.39" y1="158.8" x2="491.39" y2="156.8" stroke="#3a3a3a" stroke-width="0.8"/>
<line x1="491.39" y1="158.8" x2="491.39" y2="160.1" stroke="#3a3a3a" stroke-width="0.8"/>
<line x1="491.39" y1="226.8" x2="491.39" y2="225.6" stroke="#3a3a3a" stroke-width="0.8"/>
<line x1="500.45" y1="3.7" x2="500.45" y2="5.7" stroke="#3a3a3a" stroke-width="0.8"/>
<line x1="500.45" y1="158.8" x2="500.45" y2="156.8" stroke="#3a3a3a" stroke-width="0.8"/>
<line x1="500.45" y1="158.8" x2="500.45" y2="160.1" stroke="#3a3a3a" stroke-width="0.8"/>
<line x1="500.45" y1="226.8" x2="500.45" y2="225.6" stroke="#3a3a3a" stroke-width="0.8"/>
<line x1="508.45" y1="3.7" x2="508.45" y2="5.7" stroke="#3a3a3a" stroke-width="0.8"/>
<line x1="508.45" y1="158.8" x2="508.45" y2="156.8" stroke="#3a3a3a" stroke-width="0.8"/>
<line x1="508.45" y1="158.8" x2="508.45" y2="160.1" stroke="#3a3a3a" stroke-width="0.8"/>
<line x1="508.45" y1="226.8" x2="508.45" y2="225.6" stroke="#3a3a3a" stroke-width="0.8"/>
<line x1="515.6" y1="3.7" x2="515.6" y2="8.5" stroke="#3a3a3a" stroke-width="0.8"/>
<line x1="515.6" y1="158.8" x2="515.6" y2="154.4" stroke="#3a3a3a" stroke-width="0.8"/>
<line x1="515.6" y1="158.8" x2="515.6" y2="161.6" stroke="#3a3a3a" stroke-width="0.8"/>
<line x1="515.6" y1="226.8" x2="515.6" y2="224.2" stroke="#3a3a3a" stroke-width="0.8"/>
<line x1="562.65" y1="3.7" x2="562.65" y2="5.7" stroke="#3a3a3a" stroke-width="0.8"/>
<line x1="562.65" y1="158.8" x2="562.65" y2="156.8" stroke="#3a3a3a" stroke-width="0.8"/>
<line x1="562.65" y1="158.8" x2="562.65" y2="160.1" stroke="#3a3a3a" stroke-width="0.8"/>
<line x1="562.65" y1="226.8" x2="562.65" y2="225.6" stroke="#3a3a3a" stroke-width="0.8"/>
<line x1="590.17" y1="3.7" x2="590.17" y2="5.7" stroke="#3a3a3a" stroke-width="0.8"/>
<line x1="590.17" y1="158.8" x2="590.17" y2="156.8" stroke="#3a3a3a" stroke-width="0.8"/>
<line x1="590.17" y1="158.8" x2="590.17" y2="160.1" stroke="#3a3a3a" stroke-width="0.8"/>
<line x1="590.17" y1="226.8" x2="590.17" y2="225.6" stroke="#3a3a3a" stroke-width="0.8"/>
<line x1="609.7" y1="3.7" x2="609.7" y2="5.7" stroke="#3a3a3a" stroke-width="0.8"/>
<line x1="609.7" y1="158.8" x2="609.7" y2="156.8" stroke="#3a3a3a" stroke-width="0.8"/>
<line x1="609.7" y1="158.8" x2="609.7" y2="160.1" stroke="#3a3a3a" stroke-width="0.8"/>
<line x1="609.7" y1="226.8" x2="609.7" y2="225.6" stroke="#3a3a3a" stroke-width="0.8"/>
<line x1="624.85" y1="3.7" x2="624.85" y2="5.7" stroke="#3a3a3a" stroke-width="0.8"/>
<line x1="624.85" y1="158.8" x2="624.85" y2="156.8" stroke="#3a3a3a" stroke-width="0.8"/>
<line x1="624.85" y1="158.8" x2="624.85" y2="160.1" stroke="#3a3a3a" stroke-width="0.8"/>
<line x1="624.85" y1="226.8" x2="624.85" y2="225.6" stroke="#3a3a3a" stroke-width="0.8"/>
<line x1="637.23" y1="3.7" x2="637.23" y2="5.7" stroke="#3a3a3a" stroke-width="0.8"/>
<line x1="637.23" y1="158.8" x2="637.23" y2="156.8" stroke="#3a3a3a" stroke-width="0.8"/>
<line x1="637.23" y1="158.8" x2="637.23" y2="160.1" stroke="#3a3a3a" stroke-width="0.8"/>
<line x1="637.23" y1="226.8" x2="637.23" y2="225.6" stroke="#3a3a3a" stroke-width="0.8"/>
<line x1="647.69" y1="3.7" x2="647.69" y2="5.7" stroke="#3a3a3a" stroke-width="0.8"/>
<line x1="647.69" y1="158.8" x2="647.69" y2="156.8" stroke="#3a3a3a" stroke-width="0.8"/>
<line x1="647.69" y1="158.8" x2="647.69" y2="160.1" stroke="#3a3a3a" stroke-width="0.8"/>
<line x1="647.69" y1="226.8" x2="647.69" y2="225.6" stroke="#3a3a3a" stroke-width="0.8"/>
<line x1="656.75" y1="3.7" x2="656.75" y2="5.7" stroke="#3a3a3a" stroke-width="0.8"/>
<line x1="656.75" y1="158.8" x2="656.75" y2="156.8" stroke="#3a3a3a" stroke-width="0.8"/>
<line x1="656.75" y1="158.8" x2="656.75" y2="160.1" stroke="#3a3a3a" stroke-width="0.8"/>
<line x1="656.75" y1="226.8" x2="656.75" y2="225.6" stroke="#3a3a3a" stroke-width="0.8"/>
<line x1="664.75" y1="3.7" x2="664.75" y2="5.7" stroke="#3a3a3a" stroke-width="0.8"/>
<line x1="664.75" y1="158.8" x2="664.75" y2="156.8" stroke="#3a3a3a" stroke-width="0.8"/>
<line x1="664.75" y1="158.8" x2="664.75" y2="160.1" stroke="#3a3a3a" stroke-width="0.8"/>
<line x1="664.75" y1="226.8" x2="664.75" y2="225.6" stroke="#3a3a3a" stroke-width="0.8"/>
<line x1="671.9" y1="3.7" x2="671.9" y2="8.5" stroke="#3a3a3a" stroke-width="0.8"/>
<line x1="671.9" y1="158.8" x2="671.9" y2="154.4" stroke="#3a3a3a" stroke-width="0.8"/>
<line x1="671.9" y1="158.8" x2="671.9" y2="161.6" stroke="#3a3a3a" stroke-width="0.8"/>
<line x1="671.9" y1="226.8" x2="671.9" y2="224.2" stroke="#3a3a3a" stroke-width="0.8"/>
<line x1="491.4" y1="158.5" x2="497.9" y2="158.5" stroke="#3a3a3a" stroke-width="0.8"/>
<line x1="684.3" y1="158.5" x2="677.8" y2="158.5" stroke="#3a3a3a" stroke-width="0.8"/>
<line x1="491.4" y1="154.63" x2="494.8" y2="154.63" stroke="#3a3a3a" stroke-width="0.8"/>
<line x1="684.3" y1="154.63" x2="680.9" y2="154.63" stroke="#3a3a3a" stroke-width="0.8"/>
<line x1="491.4" y1="150.77" x2="494.8" y2="150.77" stroke="#3a3a3a" stroke-width="0.8"/>
<line x1="684.3" y1="150.77" x2="680.9" y2="150.77" stroke="#3a3a3a" stroke-width="0.8"/>
<line x1="491.4" y1="146.9" x2="494.8" y2="146.9" stroke="#3a3a3a" stroke-width="0.8"/>
<line x1="684.3" y1="146.9" x2="680.9" y2="146.9" stroke="#3a3a3a" stroke-width="0.8"/>
<line x1="491.4" y1="143.04" x2="494.8" y2="143.04" stroke="#3a3a3a" stroke-width="0.8"/>
<line x1="684.3" y1="143.04" x2="680.9" y2="143.04" stroke="#3a3a3a" stroke-width="0.8"/>
<line x1="491.4" y1="139.17" x2="497.9" y2="139.17" stroke="#3a3a3a" stroke-width="0.8"/>
<line x1="684.3" y1="139.17" x2="677.8" y2="139.17" stroke="#3a3a3a" stroke-width="0.8"/>
<line x1="491.4" y1="135.3" x2="494.8" y2="135.3" stroke="#3a3a3a" stroke-width="0.8"/>
<line x1="684.3" y1="135.3" x2="680.9" y2="135.3" stroke="#3a3a3a" stroke-width="0.8"/>
<line x1="491.4" y1="131.44" x2="494.8" y2="131.44" stroke="#3a3a3a" stroke-width="0.8"/>
<line x1="684.3" y1="131.44" x2="680.9" y2="131.44" stroke="#3a3a3a" stroke-width="0.8"/>
<line x1="491.4" y1="127.57" x2="494.8" y2="127.57" stroke="#3a3a3a" stroke-width="0.8"/>
<line x1="684.3" y1="127.57" x2="680.9" y2="127.57" stroke="#3a3a3a" stroke-width="0.8"/>
<line x1="491.4" y1="123.71" x2="494.8" y2="123.71" stroke="#3a3a3a" stroke-width="0.8"/>
<line x1="684.3" y1="123.71" x2="680.9" y2="123.71" stroke="#3a3a3a" stroke-width="0.8"/>
<line x1="491.4" y1="119.84" x2="497.9" y2="119.84" stroke="#3a3a3a" stroke-width="0.8"/>
<line x1="684.3" y1="119.84" x2="677.8" y2="119.84" stroke="#3a3a3a" stroke-width="0.8"/>
<line x1="491.4" y1="115.97" x2="494.8" y2="115.97" stroke="#3a3a3a" stroke-width="0.8"/>
<line x1="684.3" y1="115.97" x2="680.9" y2="115.97" stroke="#3a3a3a" stroke-width="0.8"/>
<line x1="491.4" y1="112.11" x2="494.8" y2="112.11" stroke="#3a3a3a" stroke-width="0.8"/>
<line x1="684.3" y1="112.11" x2="680.9" y2="112.11" stroke="#3a3a3a" stroke-width="0.8"/>
<line x1="491.4" y1="108.24" x2="494.8" y2="108.24" stroke="#3a3a3a" stroke-width="0.8"/>
<line x1="684.3" y1="108.24" x2="680.9" y2="108.24" stroke="#3a3a3a" stroke-width="0.8"/>
<line x1="491.4" y1="104.38" x2="494.8" y2="104.38" stroke="#3a3a3a" stroke-width="0.8"/>
<line x1="684.3" y1="104.38" x2="680.9" y2="104.38" stroke="#3a3a3a" stroke-width="0.8"/>
<line x1="491.4" y1="100.51" x2="497.9" y2="100.51" stroke="#3a3a3a" stroke-width="0.8"/>
<line x1="684.3" y1="100.51" x2="677.8" y2="100.51" stroke="#3a3a3a" stroke-width="0.8"/>
<line x1="491.4" y1="96.64" x2="494.8" y2="96.64" stroke="#3a3a3a" stroke-width="0.8"/>
<line x1="684.3" y1="96.64" x2="680.9" y2="96.64" stroke="#3a3a3a" stroke-width="0.8"/>
<line x1="491.4" y1="92.78" x2="494.8" y2="92.78" stroke="#3a3a3a" stroke-width="0.8"/>
<line x1="684.3" y1="92.78" x2="680.9" y2="92.78" stroke="#3a3a3a" stroke-width="0.8"/>
<line x1="491.4" y1="88.91" x2="494.8" y2="88.91" stroke="#3a3a3a" stroke-width="0.8"/>
<line x1="684.3" y1="88.91" x2="680.9" y2="88.91" stroke="#3a3a3a" stroke-width="0.8"/>
<line x1="491.4" y1="85.05" x2="494.8" y2="85.05" stroke="#3a3a3a" stroke-width="0.8"/>
<line x1="684.3" y1="85.05" x2="680.9" y2="85.05" stroke="#3a3a3a" stroke-width="0.8"/>
<line x1="491.4" y1="81.18" x2="497.9" y2="81.18" stroke="#3a3a3a" stroke-width="0.8"/>
<line x1="684.3" y1="81.18" x2="677.8" y2="81.18" stroke="#3a3a3a" stroke-width="0.8"/>
<line x1="491.4" y1="77.31" x2="494.8" y2="77.31" stroke="#3a3a3a" stroke-width="0.8"/>
<line x1="684.3" y1="77.31" x2="680.9" y2="77.31" stroke="#3a3a3a" stroke-width="0.8"/>
<line x1="491.4" y1="73.45" x2="494.8" y2="73.45" stroke="#3a3a3a" stroke-width="0.8"/>
<line x1="684.3" y1="73.45" x2="680.9" y2="73.45" stroke="#3a3a3a" stroke-width="0.8"/>
<line x1="491.4" y1="69.58" x2="494.8" y2="69.58" stroke="#3a3a3a" stroke-width="0.8"/>
<line x1="684.3" y1="69.58" x2="680.9" y2="69.58" stroke="#3a3a3a" stroke-width="0.8"/>
<line x1="491.4" y1="65.72" x2="494.8" y2="65.72" stroke="#3a3a3a" stroke-width="0.8"/>
<line x1="684.3" y1="65.72" x2="680.9" y2="65.72" stroke="#3a3a3a" stroke-width="0.8"/>
<line x1="491.4" y1="61.85" x2="497.9" y2="61.85" stroke="#3a3a3a" stroke-width="0.8"/>
<line x1="684.3" y1="61.85" x2="677.8" y2="61.85" stroke="#3a3a3a" stroke-width="0.8"/>
<line x1="491.4" y1="57.98" x2="494.8" y2="57.98" stroke="#3a3a3a" stroke-width="0.8"/>
<line x1="684.3" y1="57.98" x2="680.9" y2="57.98" stroke="#3a3a3a" stroke-width="0.8"/>
<line x1="491.4" y1="54.12" x2="494.8" y2="54.12" stroke="#3a3a3a" stroke-width="0.8"/>
<line x1="684.3" y1="54.12" x2="680.9" y2="54.12" stroke="#3a3a3a" stroke-width="0.8"/>
<line x1="491.4" y1="50.25" x2="494.8" y2="50.25" stroke="#3a3a3a" stroke-width="0.8"/>
<line x1="684.3" y1="50.25" x2="680.9" y2="50.25" stroke="#3a3a3a" stroke-width="0.8"/>
<line x1="491.4" y1="46.39" x2="494.8" y2="46.39" stroke="#3a3a3a" stroke-width="0.8"/>
<line x1="684.3" y1="46.39" x2="680.9" y2="46.39" stroke="#3a3a3a" stroke-width="0.8"/>
<line x1="491.4" y1="42.52" x2="497.9" y2="42.52" stroke="#3a3a3a" stroke-width="0.8"/>
<line x1="684.3" y1="42.52" x2="677.8" y2="42.52" stroke="#3a3a3a" stroke-width="0.8"/>
<line x1="491.4" y1="38.65" x2="494.8" y2="38.65" stroke="#3a3a3a" stroke-width="0.8"/>
<line x1="684.3" y1="38.65" x2="680.9" y2="38.65" stroke="#3a3a3a" stroke-width="0.8"/>
<line x1="491.4" y1="34.79" x2="494.8" y2="34.79" stroke="#3a3a3a" stroke-width="0.8"/>
<line x1="684.3" y1="34.79" x2="680.9" y2="34.79" stroke="#3a3a3a" stroke-width="0.8"/>
<line x1="491.4" y1="30.92" x2="494.8" y2="30.92" stroke="#3a3a3a" stroke-width="0.8"/>
<line x1="684.3" y1="30.92" x2="680.9" y2="30.92" stroke="#3a3a3a" stroke-width="0.8"/>
<line x1="491.4" y1="27.06" x2="494.8" y2="27.06" stroke="#3a3a3a" stroke-width="0.8"/>
<line x1="684.3" y1="27.06" x2="680.9" y2="27.06" stroke="#3a3a3a" stroke-width="0.8"/>
<line x1="491.4" y1="23.19" x2="497.9" y2="23.19" stroke="#3a3a3a" stroke-width="0.8"/>
<line x1="684.3" y1="23.19" x2="677.8" y2="23.19" stroke="#3a3a3a" stroke-width="0.8"/>
<line x1="491.4" y1="19.32" x2="494.8" y2="19.32" stroke="#3a3a3a" stroke-width="0.8"/>
<line x1="684.3" y1="19.32" x2="680.9" y2="19.32" stroke="#3a3a3a" stroke-width="0.8"/>
<line x1="491.4" y1="15.46" x2="494.8" y2="15.46" stroke="#3a3a3a" stroke-width="0.8"/>
<line x1="684.3" y1="15.46" x2="680.9" y2="15.46" stroke="#3a3a3a" stroke-width="0.8"/>
<line x1="491.4" y1="11.59" x2="494.8" y2="11.59" stroke="#3a3a3a" stroke-width="0.8"/>
<line x1="684.3" y1="11.59" x2="680.9" y2="11.59" stroke="#3a3a3a" stroke-width="0.8"/>
<line x1="491.4" y1="7.73" x2="494.8" y2="7.73" stroke="#3a3a3a" stroke-width="0.8"/>
<line x1="684.3" y1="7.73" x2="680.9" y2="7.73" stroke="#3a3a3a" stroke-width="0.8"/>
<line x1="491.4" y1="3.86" x2="497.9" y2="3.86" stroke="#3a3a3a" stroke-width="0.8"/>
<line x1="684.3" y1="3.86" x2="677.8" y2="3.86" stroke="#3a3a3a" stroke-width="0.8"/>
<text x="490.8" y="142.07" font-size="7.9" text-anchor="end" >0.01</text>
<text x="490.8" y="122.74" font-size="7.9" text-anchor="end" >0.02</text>
<text x="490.8" y="103.41" font-size="7.9" text-anchor="end" >0.03</text>
<text x="490.8" y="84.08" font-size="7.9" text-anchor="end" >0.04</text>
<text x="490.8" y="64.75" font-size="7.9" text-anchor="end" >0.05</text>
<text x="490.8" y="45.42" font-size="7.9" text-anchor="end" >0.06</text>
<text x="490.8" y="26.09" font-size="7.9" text-anchor="end" >0.07</text>
<text x="490.8" y="6.76" font-size="7.9" text-anchor="end" >0.08</text>
<line x1="491.4" y1="226.82" x2="495.8" y2="226.82" stroke="#3a3a3a" stroke-width="0.7"/>
<line x1="684.3" y1="226.82" x2="679.9" y2="226.82" stroke="#3a3a3a" stroke-width="0.7"/>
<line x1="491.4" y1="225.46" x2="493.2" y2="225.46" stroke="#3a3a3a" stroke-width="0.7"/>
<line x1="684.3" y1="225.46" x2="682.5" y2="225.46" stroke="#3a3a3a" stroke-width="0.7"/>
<line x1="491.4" y1="224.09" x2="493.2" y2="224.09" stroke="#3a3a3a" stroke-width="0.7"/>
<line x1="684.3" y1="224.09" x2="682.5" y2="224.09" stroke="#3a3a3a" stroke-width="0.7"/>
<line x1="491.4" y1="222.73" x2="493.2" y2="222.73" stroke="#3a3a3a" stroke-width="0.7"/>
<line x1="684.3" y1="222.73" x2="682.5" y2="222.73" stroke="#3a3a3a" stroke-width="0.7"/>
<line x1="491.4" y1="221.36" x2="493.2" y2="221.36" stroke="#3a3a3a" stroke-width="0.7"/>
<line x1="684.3" y1="221.36" x2="682.5" y2="221.36" stroke="#3a3a3a" stroke-width="0.7"/>
<line x1="491.4" y1="220" x2="495.8" y2="220" stroke="#3a3a3a" stroke-width="0.7"/>
<line x1="684.3" y1="220" x2="679.9" y2="220" stroke="#3a3a3a" stroke-width="0.7"/>
<line x1="491.4" y1="218.63" x2="493.2" y2="218.63" stroke="#3a3a3a" stroke-width="0.7"/>
<line x1="684.3" y1="218.63" x2="682.5" y2="218.63" stroke="#3a3a3a" stroke-width="0.7"/>
<line x1="491.4" y1="217.27" x2="493.2" y2="217.27" stroke="#3a3a3a" stroke-width="0.7"/>
<line x1="684.3" y1="217.27" x2="682.5" y2="217.27" stroke="#3a3a3a" stroke-width="0.7"/>
<line x1="491.4" y1="215.91" x2="493.2" y2="215.91" stroke="#3a3a3a" stroke-width="0.7"/>
<line x1="684.3" y1="215.91" x2="682.5" y2="215.91" stroke="#3a3a3a" stroke-width="0.7"/>
<line x1="491.4" y1="214.54" x2="493.2" y2="214.54" stroke="#3a3a3a" stroke-width="0.7"/>
<line x1="684.3" y1="214.54" x2="682.5" y2="214.54" stroke="#3a3a3a" stroke-width="0.7"/>
<line x1="491.4" y1="213.17" x2="495.8" y2="213.17" stroke="#3a3a3a" stroke-width="0.7"/>
<line x1="684.3" y1="213.17" x2="679.9" y2="213.17" stroke="#3a3a3a" stroke-width="0.7"/>
<line x1="491.4" y1="211.81" x2="493.2" y2="211.81" stroke="#3a3a3a" stroke-width="0.7"/>
<line x1="684.3" y1="211.81" x2="682.5" y2="211.81" stroke="#3a3a3a" stroke-width="0.7"/>
<line x1="491.4" y1="210.44" x2="493.2" y2="210.44" stroke="#3a3a3a" stroke-width="0.7"/>
<line x1="684.3" y1="210.44" x2="682.5" y2="210.44" stroke="#3a3a3a" stroke-width="0.7"/>
<line x1="491.4" y1="209.08" x2="493.2" y2="209.08" stroke="#3a3a3a" stroke-width="0.7"/>
<line x1="684.3" y1="209.08" x2="682.5" y2="209.08" stroke="#3a3a3a" stroke-width="0.7"/>
<line x1="491.4" y1="207.71" x2="493.2" y2="207.71" stroke="#3a3a3a" stroke-width="0.7"/>
<line x1="684.3" y1="207.71" x2="682.5" y2="207.71" stroke="#3a3a3a" stroke-width="0.7"/>
<line x1="491.4" y1="206.35" x2="495.8" y2="206.35" stroke="#3a3a3a" stroke-width="0.7"/>
<line x1="684.3" y1="206.35" x2="679.9" y2="206.35" stroke="#3a3a3a" stroke-width="0.7"/>
<line x1="491.4" y1="204.98" x2="493.2" y2="204.98" stroke="#3a3a3a" stroke-width="0.7"/>
<line x1="684.3" y1="204.98" x2="682.5" y2="204.98" stroke="#3a3a3a" stroke-width="0.7"/>
<line x1="491.4" y1="203.62" x2="493.2" y2="203.62" stroke="#3a3a3a" stroke-width="0.7"/>
<line x1="684.3" y1="203.62" x2="682.5" y2="203.62" stroke="#3a3a3a" stroke-width="0.7"/>
<line x1="491.4" y1="202.25" x2="493.2" y2="202.25" stroke="#3a3a3a" stroke-width="0.7"/>
<line x1="684.3" y1="202.25" x2="682.5" y2="202.25" stroke="#3a3a3a" stroke-width="0.7"/>
<line x1="491.4" y1="200.89" x2="493.2" y2="200.89" stroke="#3a3a3a" stroke-width="0.7"/>
<line x1="684.3" y1="200.89" x2="682.5" y2="200.89" stroke="#3a3a3a" stroke-width="0.7"/>
<line x1="491.4" y1="199.53" x2="495.8" y2="199.53" stroke="#3a3a3a" stroke-width="0.7"/>
<line x1="684.3" y1="199.53" x2="679.9" y2="199.53" stroke="#3a3a3a" stroke-width="0.7"/>
<line x1="491.4" y1="198.16" x2="493.2" y2="198.16" stroke="#3a3a3a" stroke-width="0.7"/>
<line x1="684.3" y1="198.16" x2="682.5" y2="198.16" stroke="#3a3a3a" stroke-width="0.7"/>
<line x1="491.4" y1="196.79" x2="493.2" y2="196.79" stroke="#3a3a3a" stroke-width="0.7"/>
<line x1="684.3" y1="196.79" x2="682.5" y2="196.79" stroke="#3a3a3a" stroke-width="0.7"/>
<line x1="491.4" y1="195.43" x2="493.2" y2="195.43" stroke="#3a3a3a" stroke-width="0.7"/>
<line x1="684.3" y1="195.43" x2="682.5" y2="195.43" stroke="#3a3a3a" stroke-width="0.7"/>
<line x1="491.4" y1="194.06" x2="493.2" y2="194.06" stroke="#3a3a3a" stroke-width="0.7"/>
<line x1="684.3" y1="194.06" x2="682.5" y2="194.06" stroke="#3a3a3a" stroke-width="0.7"/>
<line x1="491.4" y1="192.7" x2="495.8" y2="192.7" stroke="#3a3a3a" stroke-width="0.7"/>
<line x1="684.3" y1="192.7" x2="679.9" y2="192.7" stroke="#3a3a3a" stroke-width="0.7"/>
<line x1="491.4" y1="191.33" x2="493.2" y2="191.33" stroke="#3a3a3a" stroke-width="0.7"/>
<line x1="684.3" y1="191.33" x2="682.5" y2="191.33" stroke="#3a3a3a" stroke-width="0.7"/>
<line x1="491.4" y1="189.97" x2="493.2" y2="189.97" stroke="#3a3a3a" stroke-width="0.7"/>
<line x1="684.3" y1="189.97" x2="682.5" y2="189.97" stroke="#3a3a3a" stroke-width="0.7"/>
<line x1="491.4" y1="188.6" x2="493.2" y2="188.6" stroke="#3a3a3a" stroke-width="0.7"/>
<line x1="684.3" y1="188.6" x2="682.5" y2="188.6" stroke="#3a3a3a" stroke-width="0.7"/>
<line x1="491.4" y1="187.24" x2="493.2" y2="187.24" stroke="#3a3a3a" stroke-width="0.7"/>
<line x1="684.3" y1="187.24" x2="682.5" y2="187.24" stroke="#3a3a3a" stroke-width="0.7"/>
<line x1="491.4" y1="185.87" x2="495.8" y2="185.87" stroke="#3a3a3a" stroke-width="0.7"/>
<line x1="684.3" y1="185.87" x2="679.9" y2="185.87" stroke="#3a3a3a" stroke-width="0.7"/>
<line x1="491.4" y1="184.51" x2="493.2" y2="184.51" stroke="#3a3a3a" stroke-width="0.7"/>
<line x1="684.3" y1="184.51" x2="682.5" y2="184.51" stroke="#3a3a3a" stroke-width="0.7"/>
<line x1="491.4" y1="183.14" x2="493.2" y2="183.14" stroke="#3a3a3a" stroke-width="0.7"/>
<line x1="684.3" y1="183.14" x2="682.5" y2="183.14" stroke="#3a3a3a" stroke-width="0.7"/>
<line x1="491.4" y1="181.78" x2="493.2" y2="181.78" stroke="#3a3a3a" stroke-width="0.7"/>
<line x1="684.3" y1="181.78" x2="682.5" y2="181.78" stroke="#3a3a3a" stroke-width="0.7"/>
<line x1="491.4" y1="180.41" x2="493.2" y2="180.41" stroke="#3a3a3a" stroke-width="0.7"/>
<line x1="684.3" y1="180.41" x2="682.5" y2="180.41" stroke="#3a3a3a" stroke-width="0.7"/>
<line x1="491.4" y1="179.05" x2="495.8" y2="179.05" stroke="#3a3a3a" stroke-width="0.7"/>
<line x1="684.3" y1="179.05" x2="679.9" y2="179.05" stroke="#3a3a3a" stroke-width="0.7"/>
<line x1="491.4" y1="177.69" x2="493.2" y2="177.69" stroke="#3a3a3a" stroke-width="0.7"/>
<line x1="684.3" y1="177.69" x2="682.5" y2="177.69" stroke="#3a3a3a" stroke-width="0.7"/>
<line x1="491.4" y1="176.32" x2="493.2" y2="176.32" stroke="#3a3a3a" stroke-width="0.7"/>
<line x1="684.3" y1="176.32" x2="682.5" y2="176.32" stroke="#3a3a3a" stroke-width="0.7"/>
<line x1="491.4" y1="174.96" x2="493.2" y2="174.96" stroke="#3a3a3a" stroke-width="0.7"/>
<line x1="684.3" y1="174.96" x2="682.5" y2="174.96" stroke="#3a3a3a" stroke-width="0.7"/>
<line x1="491.4" y1="173.59" x2="493.2" y2="173.59" stroke="#3a3a3a" stroke-width="0.7"/>
<line x1="684.3" y1="173.59" x2="682.5" y2="173.59" stroke="#3a3a3a" stroke-width="0.7"/>
<line x1="491.4" y1="172.22" x2="495.8" y2="172.22" stroke="#3a3a3a" stroke-width="0.7"/>
<line x1="684.3" y1="172.22" x2="679.9" y2="172.22" stroke="#3a3a3a" stroke-width="0.7"/>
<line x1="491.4" y1="170.86" x2="493.2" y2="170.86" stroke="#3a3a3a" stroke-width="0.7"/>
<line x1="684.3" y1="170.86" x2="682.5" y2="170.86" stroke="#3a3a3a" stroke-width="0.7"/>
<line x1="491.4" y1="169.5" x2="493.2" y2="169.5" stroke="#3a3a3a" stroke-width="0.7"/>
<line x1="684.3" y1="169.5" x2="682.5" y2="169.5" stroke="#3a3a3a" stroke-width="0.7"/>
<line x1="491.4" y1="168.13" x2="493.2" y2="168.13" stroke="#3a3a3a" stroke-width="0.7"/>
<line x1="684.3" y1="168.13" x2="682.5" y2="168.13" stroke="#3a3a3a" stroke-width="0.7"/>
<line x1="491.4" y1="166.76" x2="493.2" y2="166.76" stroke="#3a3a3a" stroke-width="0.7"/>
<line x1="684.3" y1="166.76" x2="682.5" y2="166.76" stroke="#3a3a3a" stroke-width="0.7"/>
<line x1="491.4" y1="165.4" x2="495.8" y2="165.4" stroke="#3a3a3a" stroke-width="0.7"/>
<line x1="684.3" y1="165.4" x2="679.9" y2="165.4" stroke="#3a3a3a" stroke-width="0.7"/>
<line x1="491.4" y1="164.03" x2="493.2" y2="164.03" stroke="#3a3a3a" stroke-width="0.7"/>
<line x1="684.3" y1="164.03" x2="682.5" y2="164.03" stroke="#3a3a3a" stroke-width="0.7"/>
<line x1="491.4" y1="162.67" x2="493.2" y2="162.67" stroke="#3a3a3a" stroke-width="0.7"/>
<line x1="684.3" y1="162.67" x2="682.5" y2="162.67" stroke="#3a3a3a" stroke-width="0.7"/>
<line x1="491.4" y1="161.31" x2="493.2" y2="161.31" stroke="#3a3a3a" stroke-width="0.7"/>
<line x1="684.3" y1="161.31" x2="682.5" y2="161.31" stroke="#3a3a3a" stroke-width="0.7"/>
<line x1="491.4" y1="159.94" x2="493.2" y2="159.94" stroke="#3a3a3a" stroke-width="0.7"/>
<line x1="684.3" y1="159.94" x2="682.5" y2="159.94" stroke="#3a3a3a" stroke-width="0.7"/>
<line x1="491.4" y1="158.57" x2="495.8" y2="158.57" stroke="#3a3a3a" stroke-width="0.7"/>
<line x1="684.3" y1="158.57" x2="679.9" y2="158.57" stroke="#3a3a3a" stroke-width="0.7"/>
<text x="490" y="167.9" font-size="7.0" text-anchor="end" >1.2</text>
<text x="490" y="174.72" font-size="7.0" text-anchor="end" >1.15</text>
<text x="490" y="181.55" font-size="7.0" text-anchor="end" >1.1</text>
<text x="490" y="188.37" font-size="7.0" text-anchor="end" >1.05</text>
<text x="490" y="202.03" font-size="7.0" text-anchor="end" >0.95</text>
<text x="490" y="208.85" font-size="7.0" text-anchor="end" >0.9</text>
<text x="490" y="215.67" font-size="7.0" text-anchor="end" >0.85</text>
<text x="490" y="222.5" font-size="7.0" text-anchor="end" >0.8</text>
<text x="490" y="229.32" font-size="7.0" text-anchor="end" >0.75</text>
<path d="M488.8 192.6L490.5 190.9L490.5 195.5" fill="none" stroke="#444" stroke-width="0.8"/>
<text x="515.6" y="236.9" font-size="8.0" text-anchor="middle" >10</text>
<text x="670.6" y="236.9" font-size="8.0" text-anchor="middle" >10</text>
<text x="674.8" y="233.4" font-size="4.4" text-anchor="start" >2</text>
<line x1="634" y1="238.9" x2="637.2" y2="238.9" stroke="#222" stroke-width="0.8"/>
<text x="633.7" y="244.4" font-size="7.6" text-anchor="start" >p</text>
<text x="638.4" y="247.8" font-size="4.0" text-anchor="start" >T</text>
<text x="641" y="244.4" font-size="7.6" text-anchor="start" >,</text>
<text x="644.8" y="244.4" font-size="7.6" text-anchor="start" >p</text>
<text x="648.8" y="243" font-size="5.6" text-anchor="start" >*</text>
<text x="653" y="247.8" font-size="4.0" text-anchor="start" >T</text>
<text x="684.7" y="245.2" font-size="7.5" text-anchor="end" >[GeV]</text>
<text transform="translate(469,45) rotate(-90)" font-size="8.0">σ(m<tspan font-size="5.2" dy="2.6">μμ</tspan><tspan dy="-2.6">) / m</tspan><tspan font-size="5.2" dy="2.6">μμ</tspan></text>
<text transform="translate(470.8,188) rotate(-90)" font-size="6.7">Data / MC</text>
<text x="506.8" y="19.6" font-size="8.1" font-weight="bold" font-style="italic">ATLAS</text>
<text x="507" y="29.7" font-size="7.6" text-anchor="start" >ID</text>
<text x="523.7" y="29.7" font-size="7.6" text-anchor="start" >|η|&gt;2</text>
<path d="M507.4 38.3L508.3 37.7L509.4 40.9L510.3 34.4L514.7 34.4" fill="none" stroke="#222" stroke-width="0.85"/>
<text x="511" y="41" font-size="7.9" text-anchor="start" >s</text>
<line x1="515.4" y1="37.3" x2="518.7" y2="37.3" stroke="#333" stroke-width="0.8"/>
<line x1="515.4" y1="39.3" x2="518.7" y2="39.3" stroke="#333" stroke-width="0.8"/>
<text x="519.6" y="41" font-size="7.9" text-anchor="start" >8 TeV</text>
<text x="507" y="52.7" font-size="7.9" text-anchor="start" >L</text>
<line x1="513.7" y1="49.2" x2="516.6" y2="49.2" stroke="#333" stroke-width="0.85"/>
<line x1="513.7" y1="50.9" x2="516.6" y2="50.9" stroke="#333" stroke-width="0.85"/>
<text x="520.2" y="52.7" font-size="7.9" text-anchor="start" >20.3 fb<tspan font-size="5.2" dy="-3.2">-1</tspan></text>
<circle cx="614.8" cy="16.9" r="2.3" fill="#000"/>
<circle cx="614.8" cy="28.4" r="2.1" fill="none" stroke="#ff0000" stroke-width="0.9"/>
<path d="M612.2 36.79L617.4 36.79L614.8 41.86Z" fill="#0000ff"/>
<text x="620.2" y="19.9" font-size="8.0" text-anchor="start" >Z</text>
<text x="620.2" y="31.2" font-size="8.0" text-anchor="start" >Υ</text>
<text x="620.2" y="41.9" font-size="8.0" text-anchor="start" >J/ψ</text>
<text x="501.7" y="221.3" font-size="6.4" text-anchor="start" >Uncertainty</text>
<rect x="539.7" y="216.3" width="3.7" height="6.2" fill="#00ffff" stroke="#333" stroke-width="0.7"/>
<text x="544" y="221.3" font-size="6.4" text-anchor="start" >J/ψ</text>
<rect x="560.3" y="216.3" width="3.5" height="6.2" fill="#ffcc00" stroke="#333" stroke-width="0.7"/>
<text x="564.8" y="221.3" font-size="6.4" text-anchor="start" >Υ</text>
<rect x="573.8" y="216.3" width="3.5" height="6.2" fill="#ffff00" stroke="#333" stroke-width="0.7"/>
<text x="578.2" y="221.3" font-size="6.4" text-anchor="start" >Z</text>
<line x1="491.4" y1="89.5" x2="494.07" y2="89.5" stroke="#ff0000" stroke-width="0.75"/>
<line x1="498.07" y1="89.5" x2="500.45" y2="89.5" stroke="#ff0000" stroke-width="0.75"/>
<line x1="500.45" y1="85.7" x2="506.45" y2="85.7" stroke="#ff0000" stroke-width="0.75"/>
<line x1="510.45" y1="85.7" x2="515.6" y2="85.7" stroke="#ff0000" stroke-width="0.75"/>
<line x1="515.6" y1="86.4" x2="520.07" y2="86.4" stroke="#ff0000" stroke-width="0.75"/>
<line x1="524.07" y1="86.4" x2="527.98" y2="86.4" stroke="#ff0000" stroke-width="0.75"/>
<line x1="527.98" y1="87" x2="533.97" y2="87" stroke="#ff0000" stroke-width="0.75"/>
<line x1="537.97" y1="87" x2="543.12" y2="87" stroke="#ff0000" stroke-width="0.75"/>
<line x1="535.97" y1="81.4" x2="535.97" y2="85" stroke="#ff0000" stroke-width="0.75"/>
<line x1="535.97" y1="89" x2="535.97" y2="90" stroke="#ff0000" stroke-width="0.75"/>
<line x1="543.12" y1="83.6" x2="551.59" y2="83.6" stroke="#ff0000" stroke-width="0.75"/>
<line x1="555.59" y1="83.6" x2="562.65" y2="83.6" stroke="#ff0000" stroke-width="0.75"/>
<line x1="553.59" y1="76.7" x2="553.59" y2="81.6" stroke="#ff0000" stroke-width="0.75"/>
<line x1="553.59" y1="85.6" x2="553.59" y2="90.2" stroke="#ff0000" stroke-width="0.75"/>
<line x1="562.65" y1="90" x2="568.65" y2="90" stroke="#ff0000" stroke-width="0.75"/>
<line x1="572.65" y1="90" x2="577.8" y2="90" stroke="#ff0000" stroke-width="0.75"/>
<line x1="570.65" y1="72.1" x2="570.65" y2="88" stroke="#ff0000" stroke-width="0.75"/>
<line x1="570.65" y1="92" x2="570.65" y2="98" stroke="#ff0000" stroke-width="0.75"/>
<line x1="577.8" y1="80.9" x2="582.27" y2="80.9" stroke="#ff0000" stroke-width="0.75"/>
<line x1="586.27" y1="80.9" x2="590.17" y2="80.9" stroke="#ff0000" stroke-width="0.75"/>
<line x1="584.27" y1="50.2" x2="584.27" y2="78.9" stroke="#ff0000" stroke-width="0.75"/>
<line x1="584.27" y1="82.9" x2="584.27" y2="92.1" stroke="#ff0000" stroke-width="0.75"/>
<line x1="590.17" y1="58" x2="603.32" y2="58" stroke="#ff0000" stroke-width="0.75"/>
<line x1="607.32" y1="58" x2="617.7" y2="58" stroke="#ff0000" stroke-width="0.75"/>
<line x1="605.32" y1="35.6" x2="605.32" y2="56" stroke="#ff0000" stroke-width="0.75"/>
<line x1="605.32" y1="60" x2="605.32" y2="116.8" stroke="#ff0000" stroke-width="0.75"/>
<circle cx="496.07" cy="89.5" r="2.1" fill="none" stroke="#ff0000" stroke-width="0.9"/>
<circle cx="508.45" cy="85.7" r="2.1" fill="none" stroke="#ff0000" stroke-width="0.9"/>
<circle cx="522.07" cy="86.4" r="2.1" fill="none" stroke="#ff0000" stroke-width="0.9"/>
<circle cx="535.97" cy="87" r="2.1" fill="none" stroke="#ff0000" stroke-width="0.9"/>
<circle cx="553.59" cy="83.6" r="2.1" fill="none" stroke="#ff0000" stroke-width="0.9"/>
<circle cx="570.65" cy="90" r="2.1" fill="none" stroke="#ff0000" stroke-width="0.9"/>
<circle cx="584.27" cy="80.9" r="2.1" fill="none" stroke="#ff0000" stroke-width="0.9"/>
<circle cx="605.32" cy="58" r="2.1" fill="none" stroke="#ff0000" stroke-width="0.9"/>
<line x1="491.4" y1="93.4" x2="500.45" y2="93.4" stroke="#0000ff" stroke-width="0.8"/>
<line x1="500.45" y1="94.2" x2="508.45" y2="94.2" stroke="#0000ff" stroke-width="0.8"/>
<line x1="508.45" y1="92.8" x2="515.6" y2="92.8" stroke="#0000ff" stroke-width="0.8"/>
<line x1="515.6" y1="91.8" x2="527.98" y2="91.8" stroke="#0000ff" stroke-width="0.8"/>
<line x1="527.98" y1="93" x2="543.12" y2="93" stroke="#0000ff" stroke-width="0.8"/>
<line x1="543.12" y1="92" x2="562.65" y2="92" stroke="#0000ff" stroke-width="0.8"/>
<line x1="562.65" y1="90.3" x2="590.17" y2="90.3" stroke="#0000ff" stroke-width="0.8"/>
<line x1="577.8" y1="86.8" x2="577.8" y2="95.2" stroke="#0000ff" stroke-width="0.8"/>
<path d="M493.67 91.36L498.47 91.36L496.07 96.04Z" fill="#0000ff"/>
<path d="M502.17 92.16L506.97 92.16L504.57 96.84Z" fill="#0000ff"/>
<path d="M509.72 90.76L514.52 90.76L512.12 95.44Z" fill="#0000ff"/>
<path d="M519.67 89.76L524.47 89.76L522.07 94.44Z" fill="#0000ff"/>
<path d="M533.57 90.96L538.37 90.96L535.97 95.64Z" fill="#0000ff"/>
<path d="M551.19 89.96L555.99 89.96L553.59 94.64Z" fill="#0000ff"/>
<path d="M575.4 88.26L580.2 88.26L577.8 92.94Z" fill="#0000ff"/>
<line x1="562.65" y1="98.7" x2="590.17" y2="98.7" stroke="#000" stroke-width="0.9"/>
<line x1="590.17" y1="90" x2="600.64" y2="90" stroke="#000" stroke-width="0.9"/>
<line x1="600.64" y1="86.3" x2="609.7" y2="86.3" stroke="#000" stroke-width="0.9"/>
<line x1="605.32" y1="81" x2="605.32" y2="92" stroke="#000" stroke-width="0.9"/>
<line x1="609.7" y1="76.7" x2="617.7" y2="76.7" stroke="#000" stroke-width="0.9"/>
<line x1="617.7" y1="65.2" x2="624.85" y2="65.2" stroke="#000" stroke-width="0.9"/>
<line x1="621.37" y1="54.4" x2="621.37" y2="76" stroke="#000" stroke-width="0.9"/>
<line x1="624.85" y1="55.6" x2="637.23" y2="55.6" stroke="#000" stroke-width="0.9"/>
<line x1="631.32" y1="48.4" x2="631.32" y2="62.8" stroke="#000" stroke-width="0.9"/>
<line x1="637.23" y1="56.8" x2="647.69" y2="56.8" stroke="#000" stroke-width="0.9"/>
<line x1="642.66" y1="30" x2="642.66" y2="83.2" stroke="#000" stroke-width="0.9"/>
<line x1="647.69" y1="14" x2="684.28" y2="14" stroke="#000" stroke-width="0.9"/>
<line x1="668.42" y1="3.8" x2="668.42" y2="29" stroke="#000" stroke-width="0.9"/>
<circle cx="577.8" cy="98.7" r="2.35" fill="#000"/>
<circle cx="595.61" cy="90" r="2.35" fill="#000"/>
<circle cx="605.32" cy="86.3" r="2.35" fill="#000"/>
<circle cx="613.82" cy="76.7" r="2.35" fill="#000"/>
<circle cx="621.37" cy="65.2" r="2.35" fill="#000"/>
<circle cx="631.32" cy="55.6" r="2.35" fill="#000"/>
<circle cx="642.66" cy="56.8" r="2.35" fill="#000"/>
<circle cx="668.42" cy="14" r="2.35" fill="#000"/>
<line x1="491.4" y1="191.5" x2="494.07" y2="191.5" stroke="#ff0000" stroke-width="0.75"/>
<line x1="498.07" y1="191.5" x2="500.45" y2="191.5" stroke="#ff0000" stroke-width="0.75"/>
<line x1="496.07" y1="187.4" x2="496.07" y2="189.5" stroke="#ff0000" stroke-width="0.75"/>
<line x1="496.07" y1="193.5" x2="496.07" y2="195.5" stroke="#ff0000" stroke-width="0.75"/>
<line x1="500.45" y1="192.1" x2="506.45" y2="192.1" stroke="#ff0000" stroke-width="0.75"/>
<line x1="510.45" y1="192.1" x2="515.6" y2="192.1" stroke="#ff0000" stroke-width="0.75"/>
<line x1="515.6" y1="189.8" x2="520.07" y2="189.8" stroke="#ff0000" stroke-width="0.75"/>
<line x1="524.07" y1="189.8" x2="527.98" y2="189.8" stroke="#ff0000" stroke-width="0.75"/>
<line x1="522.07" y1="184.6" x2="522.07" y2="187.8" stroke="#ff0000" stroke-width="0.75"/>
<line x1="522.07" y1="191.8" x2="522.07" y2="195" stroke="#ff0000" stroke-width="0.75"/>
<line x1="527.98" y1="195.3" x2="533.97" y2="195.3" stroke="#ff0000" stroke-width="0.75"/>
<line x1="537.97" y1="195.3" x2="543.12" y2="195.3" stroke="#ff0000" stroke-width="0.75"/>
<line x1="535.97" y1="184.5" x2="535.97" y2="193.3" stroke="#ff0000" stroke-width="0.75"/>
<line x1="535.97" y1="197.3" x2="535.97" y2="200" stroke="#ff0000" stroke-width="0.75"/>
<line x1="543.12" y1="196.7" x2="551.59" y2="196.7" stroke="#ff0000" stroke-width="0.75"/>
<line x1="555.59" y1="196.7" x2="562.65" y2="196.7" stroke="#ff0000" stroke-width="0.75"/>
<line x1="553.59" y1="180.4" x2="553.59" y2="194.7" stroke="#ff0000" stroke-width="0.75"/>
<line x1="553.59" y1="198.7" x2="553.59" y2="205" stroke="#ff0000" stroke-width="0.75"/>
<line x1="562.65" y1="203.3" x2="568.65" y2="203.3" stroke="#ff0000" stroke-width="0.75"/>
<line x1="572.65" y1="203.3" x2="577.8" y2="203.3" stroke="#ff0000" stroke-width="0.75"/>
<line x1="570.65" y1="178" x2="570.65" y2="201.3" stroke="#ff0000" stroke-width="0.75"/>
<line x1="570.65" y1="205.3" x2="570.65" y2="226.6" stroke="#ff0000" stroke-width="0.75"/>
<line x1="577.8" y1="207.5" x2="582.27" y2="207.5" stroke="#ff0000" stroke-width="0.75"/>
<line x1="586.27" y1="207.5" x2="590.17" y2="207.5" stroke="#ff0000" stroke-width="0.75"/>
<line x1="584.27" y1="158.5" x2="584.27" y2="205.5" stroke="#ff0000" stroke-width="0.75"/>
<line x1="584.27" y1="209.5" x2="584.27" y2="226.6" stroke="#ff0000" stroke-width="0.75"/>
<line x1="590.17" y1="192.5" x2="603.32" y2="192.5" stroke="#ff0000" stroke-width="0.75"/>
<line x1="607.32" y1="192.5" x2="617.7" y2="192.5" stroke="#ff0000" stroke-width="0.75"/>
<line x1="605.32" y1="158.5" x2="605.32" y2="190.5" stroke="#ff0000" stroke-width="0.75"/>
<line x1="605.32" y1="194.5" x2="605.32" y2="226.6" stroke="#ff0000" stroke-width="0.75"/>
<circle cx="496.07" cy="191.5" r="2.1" fill="none" stroke="#ff0000" stroke-width="0.9"/>
<circle cx="508.45" cy="192.1" r="2.1" fill="none" stroke="#ff0000" stroke-width="0.9"/>
<circle cx="522.07" cy="189.8" r="2.1" fill="none" stroke="#ff0000" stroke-width="0.9"/>
<circle cx="535.97" cy="195.3" r="2.1" fill="none" stroke="#ff0000" stroke-width="0.9"/>
<circle cx="553.59" cy="196.7" r="2.1" fill="none" stroke="#ff0000" stroke-width="0.9"/>
<circle cx="570.65" cy="203.3" r="2.1" fill="none" stroke="#ff0000" stroke-width="0.9"/>
<circle cx="584.27" cy="207.5" r="2.1" fill="none" stroke="#ff0000" stroke-width="0.9"/>
<circle cx="605.32" cy="192.5" r="2.1" fill="none" stroke="#ff0000" stroke-width="0.9"/>
<line x1="491.4" y1="194" x2="500.45" y2="194" stroke="#0000ff" stroke-width="0.8"/>
<line x1="496.07" y1="192" x2="496.07" y2="197" stroke="#0000ff" stroke-width="0.8"/>
<line x1="500.45" y1="197.9" x2="508.45" y2="197.9" stroke="#0000ff" stroke-width="0.8"/>
<line x1="508.45" y1="197.8" x2="515.6" y2="197.8" stroke="#0000ff" stroke-width="0.8"/>
<line x1="515.6" y1="197.8" x2="527.98" y2="197.8" stroke="#0000ff" stroke-width="0.8"/>
<line x1="522.07" y1="194.8" x2="522.07" y2="202.4" stroke="#0000ff" stroke-width="0.8"/>
<line x1="527.98" y1="202.2" x2="543.12" y2="202.2" stroke="#0000ff" stroke-width="0.8"/>
<line x1="535.97" y1="199.3" x2="535.97" y2="206.3" stroke="#0000ff" stroke-width="0.8"/>
<line x1="543.12" y1="202.2" x2="562.65" y2="202.2" stroke="#0000ff" stroke-width="0.8"/>
<line x1="553.59" y1="199" x2="553.59" y2="206.3" stroke="#0000ff" stroke-width="0.8"/>
<line x1="562.65" y1="207.3" x2="590.17" y2="207.3" stroke="#0000ff" stroke-width="0.8"/>
<line x1="577.8" y1="203.3" x2="577.8" y2="212.3" stroke="#0000ff" stroke-width="0.8"/>
<path d="M493.67 191.96L498.47 191.96L496.07 196.64Z" fill="#0000ff"/>
<path d="M502.17 195.86L506.97 195.86L504.57 200.54Z" fill="#0000ff"/>
<path d="M509.72 195.76L514.52 195.76L512.12 200.44Z" fill="#0000ff"/>
<path d="M519.67 195.76L524.47 195.76L522.07 200.44Z" fill="#0000ff"/>
<path d="M533.57 200.16L538.37 200.16L535.97 204.84Z" fill="#0000ff"/>
<path d="M551.19 200.16L555.99 200.16L553.59 204.84Z" fill="#0000ff"/>
<path d="M575.4 205.26L580.2 205.26L577.8 209.94Z" fill="#0000ff"/>
<line x1="562.65" y1="197.6" x2="590.17" y2="197.6" stroke="#000" stroke-width="0.9"/>
<line x1="590.17" y1="188.9" x2="600.64" y2="188.9" stroke="#000" stroke-width="0.9"/>
<line x1="600.64" y1="193.4" x2="609.7" y2="193.4" stroke="#000" stroke-width="0.9"/>
<line x1="609.7" y1="193.4" x2="617.7" y2="193.4" stroke="#000" stroke-width="0.9"/>
<line x1="617.7" y1="193.4" x2="624.85" y2="193.4" stroke="#000" stroke-width="0.9"/>
<line x1="621.37" y1="177.5" x2="621.37" y2="210.5" stroke="#000" stroke-width="0.9"/>
<line x1="624.85" y1="200" x2="637.23" y2="200" stroke="#000" stroke-width="0.9"/>
<line x1="631.32" y1="185" x2="631.32" y2="213.5" stroke="#000" stroke-width="0.9"/>
<line x1="637.23" y1="200.6" x2="647.69" y2="200.6" stroke="#000" stroke-width="0.9"/>
<line x1="642.66" y1="162.5" x2="642.66" y2="226.6" stroke="#000" stroke-width="0.9"/>
<line x1="647.69" y1="167" x2="684.28" y2="167" stroke="#000" stroke-width="0.9"/>
<line x1="668.42" y1="159.5" x2="668.42" y2="200" stroke="#000" stroke-width="0.9"/>
<circle cx="577.8" cy="197.6" r="2.35" fill="#000"/>
<circle cx="595.61" cy="188.9" r="2.35" fill="#000"/>
<circle cx="605.32" cy="193.4" r="2.35" fill="#000"/>
<circle cx="613.82" cy="193.4" r="2.35" fill="#000"/>
<circle cx="621.37" cy="193.4" r="2.35" fill="#000"/>
<circle cx="631.32" cy="200" r="2.35" fill="#000"/>
<circle cx="642.66" cy="200.6" r="2.35" fill="#000"/>
<circle cx="668.42" cy="167" r="2.35" fill="#000"/>
</svg></body></html>
